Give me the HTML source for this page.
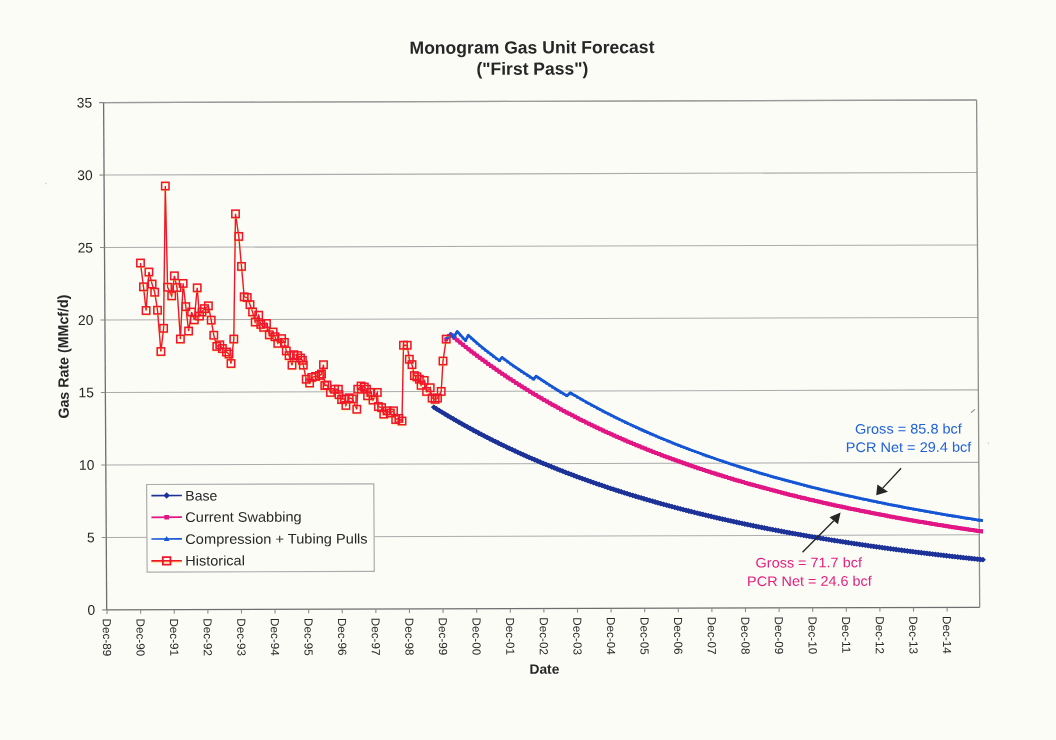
<!DOCTYPE html>
<html><head><meta charset="utf-8"><style>
html,body{margin:0;padding:0;background:#fbfcf6;}
body{width:1056px;height:740px;overflow:hidden;}
svg{display:block;font-family:"Liberation Sans", sans-serif;filter:blur(0.35px);}
</style></head><body>
<svg width="1056" height="740" viewBox="0 0 1056 740">
<rect width="1056" height="740" fill="#fbfcf6"/>
<g transform="matrix(1 -0.00298 0.00611 1 -0.627 0.309)">
<line x1="103.60" y1="537.43" x2="976.60" y2="537.43" stroke="#acacac" stroke-width="1.05"/>
<line x1="103.60" y1="464.96" x2="976.60" y2="464.96" stroke="#acacac" stroke-width="1.05"/>
<line x1="103.60" y1="392.49" x2="976.60" y2="392.49" stroke="#acacac" stroke-width="1.05"/>
<line x1="103.60" y1="320.01" x2="976.60" y2="320.01" stroke="#acacac" stroke-width="1.05"/>
<line x1="103.60" y1="247.54" x2="976.60" y2="247.54" stroke="#acacac" stroke-width="1.05"/>
<line x1="103.60" y1="175.07" x2="976.60" y2="175.07" stroke="#acacac" stroke-width="1.05"/>
<line x1="103.60" y1="102.60" x2="976.60" y2="102.60" stroke="#acacac" stroke-width="1.05"/>
<line x1="976.60" y1="102.60" x2="976.60" y2="609.90" stroke="#8e8e8e" stroke-width="1.3"/>
<line x1="103.60" y1="102.60" x2="976.60" y2="102.60" stroke="#9a9a9a" stroke-width="1.4"/>
<line x1="103.60" y1="102.60" x2="103.60" y2="609.90" stroke="#6e6e6e" stroke-width="1.3"/>
<line x1="103.60" y1="609.90" x2="976.60" y2="609.90" stroke="#6e6e6e" stroke-width="1.3"/>
<line x1="99.10" y1="609.90" x2="103.60" y2="609.90" stroke="#8c8c8c" stroke-width="1.1"/>
<text x="92.10" y="614.70" text-anchor="end" font-size="13.8" fill="#262626">0</text>
<line x1="99.10" y1="537.43" x2="103.60" y2="537.43" stroke="#8c8c8c" stroke-width="1.1"/>
<text x="92.10" y="542.23" text-anchor="end" font-size="13.8" fill="#262626">5</text>
<line x1="99.10" y1="464.96" x2="103.60" y2="464.96" stroke="#8c8c8c" stroke-width="1.1"/>
<text x="92.10" y="469.76" text-anchor="end" font-size="13.8" fill="#262626">10</text>
<line x1="99.10" y1="392.49" x2="103.60" y2="392.49" stroke="#8c8c8c" stroke-width="1.1"/>
<text x="92.10" y="397.29" text-anchor="end" font-size="13.8" fill="#262626">15</text>
<line x1="99.10" y1="320.01" x2="103.60" y2="320.01" stroke="#8c8c8c" stroke-width="1.1"/>
<text x="92.10" y="324.81" text-anchor="end" font-size="13.8" fill="#262626">20</text>
<line x1="99.10" y1="247.54" x2="103.60" y2="247.54" stroke="#8c8c8c" stroke-width="1.1"/>
<text x="92.10" y="252.34" text-anchor="end" font-size="13.8" fill="#262626">25</text>
<line x1="99.10" y1="175.07" x2="103.60" y2="175.07" stroke="#8c8c8c" stroke-width="1.1"/>
<text x="92.10" y="179.87" text-anchor="end" font-size="13.8" fill="#262626">30</text>
<line x1="99.10" y1="102.60" x2="103.60" y2="102.60" stroke="#8c8c8c" stroke-width="1.1"/>
<text x="92.10" y="107.40" text-anchor="end" font-size="13.8" fill="#262626">35</text>
<line x1="103.95" y1="609.90" x2="103.95" y2="613.90" stroke="#8c8c8c" stroke-width="1.1"/>
<text transform="translate(99.65 618.60) rotate(90)" font-size="11.7" fill="#262626">Dec-89</text>
<line x1="137.55" y1="609.90" x2="137.55" y2="613.90" stroke="#8c8c8c" stroke-width="1.1"/>
<text transform="translate(133.25 618.60) rotate(90)" font-size="11.7" fill="#262626">Dec-90</text>
<line x1="171.15" y1="609.90" x2="171.15" y2="613.90" stroke="#8c8c8c" stroke-width="1.1"/>
<text transform="translate(166.85 618.60) rotate(90)" font-size="11.7" fill="#262626">Dec-91</text>
<line x1="204.76" y1="609.90" x2="204.76" y2="613.90" stroke="#8c8c8c" stroke-width="1.1"/>
<text transform="translate(200.46 618.60) rotate(90)" font-size="11.7" fill="#262626">Dec-92</text>
<line x1="238.36" y1="609.90" x2="238.36" y2="613.90" stroke="#8c8c8c" stroke-width="1.1"/>
<text transform="translate(234.06 618.60) rotate(90)" font-size="11.7" fill="#262626">Dec-93</text>
<line x1="271.96" y1="609.90" x2="271.96" y2="613.90" stroke="#8c8c8c" stroke-width="1.1"/>
<text transform="translate(267.66 618.60) rotate(90)" font-size="11.7" fill="#262626">Dec-94</text>
<line x1="305.56" y1="609.90" x2="305.56" y2="613.90" stroke="#8c8c8c" stroke-width="1.1"/>
<text transform="translate(301.26 618.60) rotate(90)" font-size="11.7" fill="#262626">Dec-95</text>
<line x1="339.16" y1="609.90" x2="339.16" y2="613.90" stroke="#8c8c8c" stroke-width="1.1"/>
<text transform="translate(334.86 618.60) rotate(90)" font-size="11.7" fill="#262626">Dec-96</text>
<line x1="372.77" y1="609.90" x2="372.77" y2="613.90" stroke="#8c8c8c" stroke-width="1.1"/>
<text transform="translate(368.47 618.60) rotate(90)" font-size="11.7" fill="#262626">Dec-97</text>
<line x1="406.37" y1="609.90" x2="406.37" y2="613.90" stroke="#8c8c8c" stroke-width="1.1"/>
<text transform="translate(402.07 618.60) rotate(90)" font-size="11.7" fill="#262626">Dec-98</text>
<line x1="439.97" y1="609.90" x2="439.97" y2="613.90" stroke="#8c8c8c" stroke-width="1.1"/>
<text transform="translate(435.67 618.60) rotate(90)" font-size="11.7" fill="#262626">Dec-99</text>
<line x1="473.57" y1="609.90" x2="473.57" y2="613.90" stroke="#8c8c8c" stroke-width="1.1"/>
<text transform="translate(469.27 618.60) rotate(90)" font-size="11.7" fill="#262626">Dec-00</text>
<line x1="507.17" y1="609.90" x2="507.17" y2="613.90" stroke="#8c8c8c" stroke-width="1.1"/>
<text transform="translate(502.87 618.60) rotate(90)" font-size="11.7" fill="#262626">Dec-01</text>
<line x1="540.78" y1="609.90" x2="540.78" y2="613.90" stroke="#8c8c8c" stroke-width="1.1"/>
<text transform="translate(536.48 618.60) rotate(90)" font-size="11.7" fill="#262626">Dec-02</text>
<line x1="574.38" y1="609.90" x2="574.38" y2="613.90" stroke="#8c8c8c" stroke-width="1.1"/>
<text transform="translate(570.08 618.60) rotate(90)" font-size="11.7" fill="#262626">Dec-03</text>
<line x1="607.98" y1="609.90" x2="607.98" y2="613.90" stroke="#8c8c8c" stroke-width="1.1"/>
<text transform="translate(603.68 618.60) rotate(90)" font-size="11.7" fill="#262626">Dec-04</text>
<line x1="641.58" y1="609.90" x2="641.58" y2="613.90" stroke="#8c8c8c" stroke-width="1.1"/>
<text transform="translate(637.28 618.60) rotate(90)" font-size="11.7" fill="#262626">Dec-05</text>
<line x1="675.18" y1="609.90" x2="675.18" y2="613.90" stroke="#8c8c8c" stroke-width="1.1"/>
<text transform="translate(670.88 618.60) rotate(90)" font-size="11.7" fill="#262626">Dec-06</text>
<line x1="708.79" y1="609.90" x2="708.79" y2="613.90" stroke="#8c8c8c" stroke-width="1.1"/>
<text transform="translate(704.49 618.60) rotate(90)" font-size="11.7" fill="#262626">Dec-07</text>
<line x1="742.39" y1="609.90" x2="742.39" y2="613.90" stroke="#8c8c8c" stroke-width="1.1"/>
<text transform="translate(738.09 618.60) rotate(90)" font-size="11.7" fill="#262626">Dec-08</text>
<line x1="775.99" y1="609.90" x2="775.99" y2="613.90" stroke="#8c8c8c" stroke-width="1.1"/>
<text transform="translate(771.69 618.60) rotate(90)" font-size="11.7" fill="#262626">Dec-09</text>
<line x1="809.59" y1="609.90" x2="809.59" y2="613.90" stroke="#8c8c8c" stroke-width="1.1"/>
<text transform="translate(805.29 618.60) rotate(90)" font-size="11.7" fill="#262626">Dec-10</text>
<line x1="843.19" y1="609.90" x2="843.19" y2="613.90" stroke="#8c8c8c" stroke-width="1.1"/>
<text transform="translate(838.89 618.60) rotate(90)" font-size="11.7" fill="#262626">Dec-11</text>
<line x1="876.80" y1="609.90" x2="876.80" y2="613.90" stroke="#8c8c8c" stroke-width="1.1"/>
<text transform="translate(872.50 618.60) rotate(90)" font-size="11.7" fill="#262626">Dec-12</text>
<line x1="910.40" y1="609.90" x2="910.40" y2="613.90" stroke="#8c8c8c" stroke-width="1.1"/>
<text transform="translate(906.10 618.60) rotate(90)" font-size="11.7" fill="#262626">Dec-13</text>
<line x1="944.00" y1="609.90" x2="944.00" y2="613.90" stroke="#8c8c8c" stroke-width="1.1"/>
<text transform="translate(939.70 618.60) rotate(90)" font-size="11.7" fill="#262626">Dec-14</text>
<text transform="translate(66.85 356.49) rotate(-90)" text-anchor="middle" font-size="14.6" font-weight="bold" fill="#262626" textLength="124" lengthAdjust="spacingAndGlyphs">Gas Rate (MMcf/d)</text>
<text x="540.91" y="675.10" text-anchor="middle" font-size="13.6" font-weight="bold" fill="#262626" textLength="30" lengthAdjust="spacingAndGlyphs">Date</text>
<text x="532.30" y="54.68" text-anchor="middle" font-size="17.6" font-weight="bold" fill="#262626" textLength="245" lengthAdjust="spacingAndGlyphs">Monogram Gas Unit Forecast</text>
<text x="532.57" y="75.98" text-anchor="middle" font-size="17.6" font-weight="bold" fill="#262626" textLength="112" lengthAdjust="spacingAndGlyphs">("First Pass")</text>
</g>
<polyline points="433.80,407.19 436.60,408.94 439.40,410.67 442.21,412.37 445.01,414.06 447.81,415.73 450.61,417.39 453.41,419.02 456.22,420.64 459.02,422.25 461.82,423.83 464.62,425.40 467.42,426.95 470.23,428.49 473.03,430.01 475.83,431.51 478.63,433.00 481.43,434.47 484.24,435.93 487.04,437.37 489.84,438.80 492.64,440.21 495.44,441.61 498.25,442.99 501.05,444.36 503.85,445.71 506.65,447.06 509.46,448.38 512.26,449.70 515.06,451.00 517.86,452.29 520.66,453.56 523.47,454.82 526.27,456.07 529.07,457.31 531.87,458.53 534.67,459.74 537.48,460.94 540.28,462.13 543.08,463.30 545.88,464.47 548.68,465.62 551.49,466.76 554.29,467.89 557.09,469.01 559.89,470.11 562.69,471.21 565.50,472.29 568.30,473.37 571.10,474.43 573.90,475.48 576.70,476.53 579.51,477.56 582.31,478.58 585.11,479.60 587.91,480.60 590.71,481.59 593.52,482.58 596.32,483.55 599.12,484.52 601.92,485.47 604.72,486.42 607.53,487.35 610.33,488.28 613.13,489.20 615.93,490.11 618.73,491.01 621.54,491.91 624.34,492.79 627.14,493.67 629.94,494.54 632.74,495.40 635.55,496.25 638.35,497.09 641.15,497.93 643.95,498.76 646.76,499.58 649.56,500.39 652.36,501.19 655.16,501.99 657.96,502.78 660.77,503.56 663.57,504.34 666.37,505.11 669.17,505.87 671.97,506.62 674.78,507.37 677.58,508.11 680.38,508.84 683.18,509.57 685.98,510.29 688.79,511.00 691.59,511.71 694.39,512.41 697.19,513.10 699.99,513.79 702.80,514.47 705.60,515.14 708.40,515.81 711.20,516.47 714.00,517.13 716.81,517.78 719.61,518.43 722.41,519.07 725.21,519.70 728.01,520.33 730.82,520.95 733.62,521.57 736.42,522.18 739.22,522.78 742.02,523.38 744.83,523.98 747.63,524.57 750.43,525.15 753.23,525.73 756.03,526.31 758.84,526.88 761.64,527.44 764.44,528.00 767.24,528.55 770.04,529.10 772.85,529.65 775.65,530.19 778.45,530.72 781.25,531.25 784.06,531.78 786.86,532.30 789.66,532.82 792.46,533.33 795.26,533.84 798.07,534.34 800.87,534.84 803.67,535.33 806.47,535.83 809.27,536.31 812.08,536.79 814.88,537.27 817.68,537.75 820.48,538.22 823.28,538.68 826.09,539.14 828.89,539.60 831.69,540.06 834.49,540.51 837.29,540.95 840.10,541.39 842.90,541.83 845.70,542.27 848.50,542.70 851.30,543.13 854.11,543.55 856.91,543.97 859.71,544.39 862.51,544.80 865.31,545.21 868.12,545.62 870.92,546.03 873.72,546.43 876.52,546.82 879.32,547.22 882.13,547.61 884.93,547.99 887.73,548.38 890.53,548.76 893.33,549.13 896.14,549.51 898.94,549.88 901.74,550.25 904.54,550.61 907.34,550.98 910.15,551.34 912.95,551.69 915.75,552.05 918.55,552.40 921.36,552.74 924.16,553.09 926.96,553.43 929.76,553.77 932.56,554.11 935.37,554.44 938.17,554.77 940.97,555.10 943.77,555.43 946.57,555.75 949.38,556.07 952.18,556.39 954.98,556.70 957.78,557.02 960.58,557.33 963.39,557.64 966.19,557.94 968.99,558.24 971.79,558.54 974.59,558.84 977.40,559.14 980.20,559.43 983.00,559.72" fill="none" stroke="#1d3298" stroke-width="4.0" stroke-linejoin="round"/>
<path d="M433.80 404.29l2.90 2.90l-2.90 2.90l-2.90 -2.90zM436.60 406.04l2.90 2.90l-2.90 2.90l-2.90 -2.90zM439.40 407.77l2.90 2.90l-2.90 2.90l-2.90 -2.90zM442.21 409.47l2.90 2.90l-2.90 2.90l-2.90 -2.90zM445.01 411.16l2.90 2.90l-2.90 2.90l-2.90 -2.90zM447.81 412.83l2.90 2.90l-2.90 2.90l-2.90 -2.90zM450.61 414.49l2.90 2.90l-2.90 2.90l-2.90 -2.90zM453.41 416.12l2.90 2.90l-2.90 2.90l-2.90 -2.90zM456.22 417.74l2.90 2.90l-2.90 2.90l-2.90 -2.90zM459.02 419.35l2.90 2.90l-2.90 2.90l-2.90 -2.90zM461.82 420.93l2.90 2.90l-2.90 2.90l-2.90 -2.90zM464.62 422.50l2.90 2.90l-2.90 2.90l-2.90 -2.90zM467.42 424.05l2.90 2.90l-2.90 2.90l-2.90 -2.90zM470.23 425.59l2.90 2.90l-2.90 2.90l-2.90 -2.90zM473.03 427.11l2.90 2.90l-2.90 2.90l-2.90 -2.90zM475.83 428.61l2.90 2.90l-2.90 2.90l-2.90 -2.90zM478.63 430.10l2.90 2.90l-2.90 2.90l-2.90 -2.90zM481.43 431.57l2.90 2.90l-2.90 2.90l-2.90 -2.90zM484.24 433.03l2.90 2.90l-2.90 2.90l-2.90 -2.90zM487.04 434.47l2.90 2.90l-2.90 2.90l-2.90 -2.90zM489.84 435.90l2.90 2.90l-2.90 2.90l-2.90 -2.90zM492.64 437.31l2.90 2.90l-2.90 2.90l-2.90 -2.90zM495.44 438.71l2.90 2.90l-2.90 2.90l-2.90 -2.90zM498.25 440.09l2.90 2.90l-2.90 2.90l-2.90 -2.90zM501.05 441.46l2.90 2.90l-2.90 2.90l-2.90 -2.90zM503.85 442.81l2.90 2.90l-2.90 2.90l-2.90 -2.90zM506.65 444.16l2.90 2.90l-2.90 2.90l-2.90 -2.90zM509.46 445.48l2.90 2.90l-2.90 2.90l-2.90 -2.90zM512.26 446.80l2.90 2.90l-2.90 2.90l-2.90 -2.90zM515.06 448.10l2.90 2.90l-2.90 2.90l-2.90 -2.90zM517.86 449.39l2.90 2.90l-2.90 2.90l-2.90 -2.90zM520.66 450.66l2.90 2.90l-2.90 2.90l-2.90 -2.90zM523.47 451.92l2.90 2.90l-2.90 2.90l-2.90 -2.90zM526.27 453.17l2.90 2.90l-2.90 2.90l-2.90 -2.90zM529.07 454.41l2.90 2.90l-2.90 2.90l-2.90 -2.90zM531.87 455.63l2.90 2.90l-2.90 2.90l-2.90 -2.90zM534.67 456.84l2.90 2.90l-2.90 2.90l-2.90 -2.90zM537.48 458.04l2.90 2.90l-2.90 2.90l-2.90 -2.90zM540.28 459.23l2.90 2.90l-2.90 2.90l-2.90 -2.90zM543.08 460.40l2.90 2.90l-2.90 2.90l-2.90 -2.90zM545.88 461.57l2.90 2.90l-2.90 2.90l-2.90 -2.90zM548.68 462.72l2.90 2.90l-2.90 2.90l-2.90 -2.90zM551.49 463.86l2.90 2.90l-2.90 2.90l-2.90 -2.90zM554.29 464.99l2.90 2.90l-2.90 2.90l-2.90 -2.90zM557.09 466.11l2.90 2.90l-2.90 2.90l-2.90 -2.90zM559.89 467.21l2.90 2.90l-2.90 2.90l-2.90 -2.90zM562.69 468.31l2.90 2.90l-2.90 2.90l-2.90 -2.90zM565.50 469.39l2.90 2.90l-2.90 2.90l-2.90 -2.90zM568.30 470.47l2.90 2.90l-2.90 2.90l-2.90 -2.90zM571.10 471.53l2.90 2.90l-2.90 2.90l-2.90 -2.90zM573.90 472.58l2.90 2.90l-2.90 2.90l-2.90 -2.90zM576.70 473.63l2.90 2.90l-2.90 2.90l-2.90 -2.90zM579.51 474.66l2.90 2.90l-2.90 2.90l-2.90 -2.90zM582.31 475.68l2.90 2.90l-2.90 2.90l-2.90 -2.90zM585.11 476.70l2.90 2.90l-2.90 2.90l-2.90 -2.90zM587.91 477.70l2.90 2.90l-2.90 2.90l-2.90 -2.90zM590.71 478.69l2.90 2.90l-2.90 2.90l-2.90 -2.90zM593.52 479.68l2.90 2.90l-2.90 2.90l-2.90 -2.90zM596.32 480.65l2.90 2.90l-2.90 2.90l-2.90 -2.90zM599.12 481.62l2.90 2.90l-2.90 2.90l-2.90 -2.90zM601.92 482.57l2.90 2.90l-2.90 2.90l-2.90 -2.90zM604.72 483.52l2.90 2.90l-2.90 2.90l-2.90 -2.90zM607.53 484.45l2.90 2.90l-2.90 2.90l-2.90 -2.90zM610.33 485.38l2.90 2.90l-2.90 2.90l-2.90 -2.90zM613.13 486.30l2.90 2.90l-2.90 2.90l-2.90 -2.90zM615.93 487.21l2.90 2.90l-2.90 2.90l-2.90 -2.90zM618.73 488.11l2.90 2.90l-2.90 2.90l-2.90 -2.90zM621.54 489.01l2.90 2.90l-2.90 2.90l-2.90 -2.90zM624.34 489.89l2.90 2.90l-2.90 2.90l-2.90 -2.90zM627.14 490.77l2.90 2.90l-2.90 2.90l-2.90 -2.90zM629.94 491.64l2.90 2.90l-2.90 2.90l-2.90 -2.90zM632.74 492.50l2.90 2.90l-2.90 2.90l-2.90 -2.90zM635.55 493.35l2.90 2.90l-2.90 2.90l-2.90 -2.90zM638.35 494.19l2.90 2.90l-2.90 2.90l-2.90 -2.90zM641.15 495.03l2.90 2.90l-2.90 2.90l-2.90 -2.90zM643.95 495.86l2.90 2.90l-2.90 2.90l-2.90 -2.90zM646.76 496.68l2.90 2.90l-2.90 2.90l-2.90 -2.90zM649.56 497.49l2.90 2.90l-2.90 2.90l-2.90 -2.90zM652.36 498.29l2.90 2.90l-2.90 2.90l-2.90 -2.90zM655.16 499.09l2.90 2.90l-2.90 2.90l-2.90 -2.90zM657.96 499.88l2.90 2.90l-2.90 2.90l-2.90 -2.90zM660.77 500.66l2.90 2.90l-2.90 2.90l-2.90 -2.90zM663.57 501.44l2.90 2.90l-2.90 2.90l-2.90 -2.90zM666.37 502.21l2.90 2.90l-2.90 2.90l-2.90 -2.90zM669.17 502.97l2.90 2.90l-2.90 2.90l-2.90 -2.90zM671.97 503.72l2.90 2.90l-2.90 2.90l-2.90 -2.90zM674.78 504.47l2.90 2.90l-2.90 2.90l-2.90 -2.90zM677.58 505.21l2.90 2.90l-2.90 2.90l-2.90 -2.90zM680.38 505.94l2.90 2.90l-2.90 2.90l-2.90 -2.90zM683.18 506.67l2.90 2.90l-2.90 2.90l-2.90 -2.90zM685.98 507.39l2.90 2.90l-2.90 2.90l-2.90 -2.90zM688.79 508.10l2.90 2.90l-2.90 2.90l-2.90 -2.90zM691.59 508.81l2.90 2.90l-2.90 2.90l-2.90 -2.90zM694.39 509.51l2.90 2.90l-2.90 2.90l-2.90 -2.90zM697.19 510.20l2.90 2.90l-2.90 2.90l-2.90 -2.90zM699.99 510.89l2.90 2.90l-2.90 2.90l-2.90 -2.90zM702.80 511.57l2.90 2.90l-2.90 2.90l-2.90 -2.90zM705.60 512.24l2.90 2.90l-2.90 2.90l-2.90 -2.90zM708.40 512.91l2.90 2.90l-2.90 2.90l-2.90 -2.90zM711.20 513.57l2.90 2.90l-2.90 2.90l-2.90 -2.90zM714.00 514.23l2.90 2.90l-2.90 2.90l-2.90 -2.90zM716.81 514.88l2.90 2.90l-2.90 2.90l-2.90 -2.90zM719.61 515.53l2.90 2.90l-2.90 2.90l-2.90 -2.90zM722.41 516.17l2.90 2.90l-2.90 2.90l-2.90 -2.90zM725.21 516.80l2.90 2.90l-2.90 2.90l-2.90 -2.90zM728.01 517.43l2.90 2.90l-2.90 2.90l-2.90 -2.90zM730.82 518.05l2.90 2.90l-2.90 2.90l-2.90 -2.90zM733.62 518.67l2.90 2.90l-2.90 2.90l-2.90 -2.90zM736.42 519.28l2.90 2.90l-2.90 2.90l-2.90 -2.90zM739.22 519.88l2.90 2.90l-2.90 2.90l-2.90 -2.90zM742.02 520.48l2.90 2.90l-2.90 2.90l-2.90 -2.90zM744.83 521.08l2.90 2.90l-2.90 2.90l-2.90 -2.90zM747.63 521.67l2.90 2.90l-2.90 2.90l-2.90 -2.90zM750.43 522.25l2.90 2.90l-2.90 2.90l-2.90 -2.90zM753.23 522.83l2.90 2.90l-2.90 2.90l-2.90 -2.90zM756.03 523.41l2.90 2.90l-2.90 2.90l-2.90 -2.90zM758.84 523.98l2.90 2.90l-2.90 2.90l-2.90 -2.90zM761.64 524.54l2.90 2.90l-2.90 2.90l-2.90 -2.90zM764.44 525.10l2.90 2.90l-2.90 2.90l-2.90 -2.90zM767.24 525.65l2.90 2.90l-2.90 2.90l-2.90 -2.90zM770.04 526.20l2.90 2.90l-2.90 2.90l-2.90 -2.90zM772.85 526.75l2.90 2.90l-2.90 2.90l-2.90 -2.90zM775.65 527.29l2.90 2.90l-2.90 2.90l-2.90 -2.90zM778.45 527.82l2.90 2.90l-2.90 2.90l-2.90 -2.90zM781.25 528.35l2.90 2.90l-2.90 2.90l-2.90 -2.90zM784.06 528.88l2.90 2.90l-2.90 2.90l-2.90 -2.90zM786.86 529.40l2.90 2.90l-2.90 2.90l-2.90 -2.90zM789.66 529.92l2.90 2.90l-2.90 2.90l-2.90 -2.90zM792.46 530.43l2.90 2.90l-2.90 2.90l-2.90 -2.90zM795.26 530.94l2.90 2.90l-2.90 2.90l-2.90 -2.90zM798.07 531.44l2.90 2.90l-2.90 2.90l-2.90 -2.90zM800.87 531.94l2.90 2.90l-2.90 2.90l-2.90 -2.90zM803.67 532.43l2.90 2.90l-2.90 2.90l-2.90 -2.90zM806.47 532.93l2.90 2.90l-2.90 2.90l-2.90 -2.90zM809.27 533.41l2.90 2.90l-2.90 2.90l-2.90 -2.90zM812.08 533.89l2.90 2.90l-2.90 2.90l-2.90 -2.90zM814.88 534.37l2.90 2.90l-2.90 2.90l-2.90 -2.90zM817.68 534.85l2.90 2.90l-2.90 2.90l-2.90 -2.90zM820.48 535.32l2.90 2.90l-2.90 2.90l-2.90 -2.90zM823.28 535.78l2.90 2.90l-2.90 2.90l-2.90 -2.90zM826.09 536.24l2.90 2.90l-2.90 2.90l-2.90 -2.90zM828.89 536.70l2.90 2.90l-2.90 2.90l-2.90 -2.90zM831.69 537.16l2.90 2.90l-2.90 2.90l-2.90 -2.90zM834.49 537.61l2.90 2.90l-2.90 2.90l-2.90 -2.90zM837.29 538.05l2.90 2.90l-2.90 2.90l-2.90 -2.90zM840.10 538.49l2.90 2.90l-2.90 2.90l-2.90 -2.90zM842.90 538.93l2.90 2.90l-2.90 2.90l-2.90 -2.90zM845.70 539.37l2.90 2.90l-2.90 2.90l-2.90 -2.90zM848.50 539.80l2.90 2.90l-2.90 2.90l-2.90 -2.90zM851.30 540.23l2.90 2.90l-2.90 2.90l-2.90 -2.90zM854.11 540.65l2.90 2.90l-2.90 2.90l-2.90 -2.90zM856.91 541.07l2.90 2.90l-2.90 2.90l-2.90 -2.90zM859.71 541.49l2.90 2.90l-2.90 2.90l-2.90 -2.90zM862.51 541.90l2.90 2.90l-2.90 2.90l-2.90 -2.90zM865.31 542.31l2.90 2.90l-2.90 2.90l-2.90 -2.90zM868.12 542.72l2.90 2.90l-2.90 2.90l-2.90 -2.90zM870.92 543.13l2.90 2.90l-2.90 2.90l-2.90 -2.90zM873.72 543.53l2.90 2.90l-2.90 2.90l-2.90 -2.90zM876.52 543.92l2.90 2.90l-2.90 2.90l-2.90 -2.90zM879.32 544.32l2.90 2.90l-2.90 2.90l-2.90 -2.90zM882.13 544.71l2.90 2.90l-2.90 2.90l-2.90 -2.90zM884.93 545.09l2.90 2.90l-2.90 2.90l-2.90 -2.90zM887.73 545.48l2.90 2.90l-2.90 2.90l-2.90 -2.90zM890.53 545.86l2.90 2.90l-2.90 2.90l-2.90 -2.90zM893.33 546.23l2.90 2.90l-2.90 2.90l-2.90 -2.90zM896.14 546.61l2.90 2.90l-2.90 2.90l-2.90 -2.90zM898.94 546.98l2.90 2.90l-2.90 2.90l-2.90 -2.90zM901.74 547.35l2.90 2.90l-2.90 2.90l-2.90 -2.90zM904.54 547.71l2.90 2.90l-2.90 2.90l-2.90 -2.90zM907.34 548.08l2.90 2.90l-2.90 2.90l-2.90 -2.90zM910.15 548.44l2.90 2.90l-2.90 2.90l-2.90 -2.90zM912.95 548.79l2.90 2.90l-2.90 2.90l-2.90 -2.90zM915.75 549.15l2.90 2.90l-2.90 2.90l-2.90 -2.90zM918.55 549.50l2.90 2.90l-2.90 2.90l-2.90 -2.90zM921.36 549.84l2.90 2.90l-2.90 2.90l-2.90 -2.90zM924.16 550.19l2.90 2.90l-2.90 2.90l-2.90 -2.90zM926.96 550.53l2.90 2.90l-2.90 2.90l-2.90 -2.90zM929.76 550.87l2.90 2.90l-2.90 2.90l-2.90 -2.90zM932.56 551.21l2.90 2.90l-2.90 2.90l-2.90 -2.90zM935.37 551.54l2.90 2.90l-2.90 2.90l-2.90 -2.90zM938.17 551.87l2.90 2.90l-2.90 2.90l-2.90 -2.90zM940.97 552.20l2.90 2.90l-2.90 2.90l-2.90 -2.90zM943.77 552.53l2.90 2.90l-2.90 2.90l-2.90 -2.90zM946.57 552.85l2.90 2.90l-2.90 2.90l-2.90 -2.90zM949.38 553.17l2.90 2.90l-2.90 2.90l-2.90 -2.90zM952.18 553.49l2.90 2.90l-2.90 2.90l-2.90 -2.90zM954.98 553.80l2.90 2.90l-2.90 2.90l-2.90 -2.90zM957.78 554.12l2.90 2.90l-2.90 2.90l-2.90 -2.90zM960.58 554.43l2.90 2.90l-2.90 2.90l-2.90 -2.90zM963.39 554.74l2.90 2.90l-2.90 2.90l-2.90 -2.90zM966.19 555.04l2.90 2.90l-2.90 2.90l-2.90 -2.90zM968.99 555.34l2.90 2.90l-2.90 2.90l-2.90 -2.90zM971.79 555.64l2.90 2.90l-2.90 2.90l-2.90 -2.90zM974.59 555.94l2.90 2.90l-2.90 2.90l-2.90 -2.90zM977.40 556.24l2.90 2.90l-2.90 2.90l-2.90 -2.90zM980.20 556.53l2.90 2.90l-2.90 2.90l-2.90 -2.90zM983.00 556.82l2.90 2.90l-2.90 2.90l-2.90 -2.90z" fill="#1d3298"/>
<polyline points="446.20,339.60 450.60,334.00 453.40,337.07 456.20,339.37 459.00,341.65 461.81,343.90 464.61,346.13 467.41,348.33 470.21,350.51 473.01,352.66 475.82,354.78 478.62,356.89 481.42,358.97 484.22,361.02 487.03,363.05 489.83,365.06 492.63,367.05 495.43,369.02 498.23,370.96 501.04,372.88 503.84,374.78 506.64,376.66 509.44,378.52 512.24,380.36 515.05,382.18 517.85,383.98 520.65,385.76 523.45,387.52 526.26,389.26 529.06,390.99 531.86,392.69 534.66,394.38 537.46,396.05 540.27,397.70 543.07,399.33 545.87,400.95 548.67,402.54 551.47,404.13 554.28,405.69 557.08,407.24 559.88,408.77 562.68,410.29 565.48,411.79 568.29,413.28 571.09,414.75 573.89,416.20 576.69,417.65 579.50,419.07 582.30,420.48 585.10,421.88 587.90,423.26 590.70,424.63 593.51,425.98 596.31,427.33 599.11,428.65 601.91,429.97 604.71,431.27 607.52,432.56 610.32,433.83 613.12,435.10 615.92,436.35 618.72,437.58 621.53,438.81 624.33,440.02 627.13,441.22 629.93,442.41 632.74,443.59 635.54,444.76 638.34,445.92 641.14,447.06 643.94,448.19 646.75,449.32 649.55,450.43 652.35,451.53 655.15,452.62 657.95,453.70 660.76,454.77 663.56,455.83 666.36,456.88 669.16,457.92 671.97,458.95 674.77,459.97 677.57,460.98 680.37,461.98 683.17,462.97 685.98,463.95 688.78,464.93 691.58,465.89 694.38,466.85 697.18,467.79 699.99,468.73 702.79,469.66 705.59,470.58 708.39,471.49 711.19,472.40 714.00,473.29 716.80,474.18 719.60,475.06 722.40,475.93 725.21,476.80 728.01,477.65 730.81,478.50 733.61,479.34 736.41,480.18 739.22,481.00 742.02,481.82 744.82,482.63 747.62,483.43 750.42,484.23 753.23,485.02 756.03,485.80 758.83,486.58 761.63,487.35 764.43,488.11 767.24,488.87 770.04,489.62 772.84,490.36 775.64,491.10 778.45,491.83 781.25,492.55 784.05,493.27 786.85,493.98 789.65,494.68 792.46,495.38 795.26,496.07 798.06,496.76 800.86,497.44 803.66,498.12 806.47,498.79 809.27,499.45 812.07,500.11 814.87,500.76 817.68,501.41 820.48,502.05 823.28,502.69 826.08,503.32 828.88,503.95 831.69,504.57 834.49,505.18 837.29,505.79 840.09,506.40 842.89,507.00 845.70,507.60 848.50,508.19 851.30,508.77 854.10,509.35 856.90,509.93 859.71,510.50 862.51,511.07 865.31,511.63 868.11,512.19 870.92,512.74 873.72,513.29 876.52,513.84 879.32,514.38 882.12,514.91 884.93,515.44 887.73,515.97 890.53,516.49 893.33,517.01 896.13,517.53 898.94,518.04 901.74,518.54 904.54,519.05 907.34,519.55 910.14,520.04 912.95,520.53 915.75,521.02 918.55,521.50 921.35,521.98 924.16,522.46 926.96,522.93 929.76,523.40 932.56,523.86 935.36,524.32 938.17,524.78 940.97,525.23 943.77,525.68 946.57,526.13 949.37,526.57 952.18,527.01 954.98,527.45 957.78,527.88 960.58,528.31 963.39,528.74 966.19,529.17 968.99,529.59 971.79,530.00 974.59,530.42 977.40,530.83 980.20,531.24 983.00,531.64" fill="none" stroke="#e11584" stroke-width="3.6" stroke-linejoin="round"/>
<path d="M444.20 337.60h4.00v4.00h-4.00zM447.00 334.04h4.00v4.00h-4.00zM449.80 333.32h4.00v4.00h-4.00zM452.60 336.06h4.00v4.00h-4.00zM455.40 338.35h4.00v4.00h-4.00zM458.20 340.61h4.00v4.00h-4.00zM461.00 342.85h4.00v4.00h-4.00zM463.80 345.07h4.00v4.00h-4.00zM466.60 347.25h4.00v4.00h-4.00zM469.40 349.42h4.00v4.00h-4.00zM472.20 351.56h4.00v4.00h-4.00zM475.00 353.67h4.00v4.00h-4.00zM477.80 355.76h4.00v4.00h-4.00zM480.60 357.83h4.00v4.00h-4.00zM483.40 359.87h4.00v4.00h-4.00zM486.20 361.90h4.00v4.00h-4.00zM489.00 363.90h4.00v4.00h-4.00zM491.80 365.87h4.00v4.00h-4.00zM494.60 367.83h4.00v4.00h-4.00zM497.40 369.76h4.00v4.00h-4.00zM500.20 371.67h4.00v4.00h-4.00zM503.00 373.56h4.00v4.00h-4.00zM505.80 375.43h4.00v4.00h-4.00zM508.60 377.28h4.00v4.00h-4.00zM511.40 379.11h4.00v4.00h-4.00zM514.20 380.92h4.00v4.00h-4.00zM517.00 382.71h4.00v4.00h-4.00zM519.80 384.48h4.00v4.00h-4.00zM522.60 386.23h4.00v4.00h-4.00zM525.40 387.97h4.00v4.00h-4.00zM528.20 389.68h4.00v4.00h-4.00zM531.00 391.38h4.00v4.00h-4.00zM533.80 393.06h4.00v4.00h-4.00zM536.60 394.72h4.00v4.00h-4.00zM539.40 396.36h4.00v4.00h-4.00zM542.20 397.98h4.00v4.00h-4.00zM545.00 399.59h4.00v4.00h-4.00zM547.80 401.18h4.00v4.00h-4.00zM550.60 402.76h4.00v4.00h-4.00zM553.40 404.31h4.00v4.00h-4.00zM556.20 405.86h4.00v4.00h-4.00zM559.00 407.38h4.00v4.00h-4.00zM561.80 408.89h4.00v4.00h-4.00zM564.60 410.38h4.00v4.00h-4.00zM567.40 411.86h4.00v4.00h-4.00zM570.20 413.33h4.00v4.00h-4.00zM573.00 414.77h4.00v4.00h-4.00zM575.80 416.21h4.00v4.00h-4.00zM578.60 417.63h4.00v4.00h-4.00zM581.40 419.03h4.00v4.00h-4.00zM584.20 420.42h4.00v4.00h-4.00zM587.00 421.80h4.00v4.00h-4.00zM589.80 423.16h4.00v4.00h-4.00zM592.60 424.51h4.00v4.00h-4.00zM595.40 425.84h4.00v4.00h-4.00zM598.20 427.16h4.00v4.00h-4.00zM601.00 428.47h4.00v4.00h-4.00zM603.80 429.77h4.00v4.00h-4.00zM606.60 431.05h4.00v4.00h-4.00zM609.40 432.32h4.00v4.00h-4.00zM612.20 433.58h4.00v4.00h-4.00zM615.00 434.82h4.00v4.00h-4.00zM617.80 436.05h4.00v4.00h-4.00zM620.60 437.27h4.00v4.00h-4.00zM623.40 438.48h4.00v4.00h-4.00zM626.20 439.68h4.00v4.00h-4.00zM629.00 440.86h4.00v4.00h-4.00zM631.80 442.04h4.00v4.00h-4.00zM634.60 443.20h4.00v4.00h-4.00zM637.40 444.35h4.00v4.00h-4.00zM640.20 445.49h4.00v4.00h-4.00zM643.00 446.62h4.00v4.00h-4.00zM645.80 447.73h4.00v4.00h-4.00zM648.60 448.84h4.00v4.00h-4.00zM651.40 449.94h4.00v4.00h-4.00zM654.20 451.02h4.00v4.00h-4.00zM657.00 452.10h4.00v4.00h-4.00zM659.80 453.16h4.00v4.00h-4.00zM662.60 454.22h4.00v4.00h-4.00zM665.40 455.26h4.00v4.00h-4.00zM668.20 456.30h4.00v4.00h-4.00zM671.00 457.32h4.00v4.00h-4.00zM673.80 458.34h4.00v4.00h-4.00zM676.60 459.35h4.00v4.00h-4.00zM679.40 460.34h4.00v4.00h-4.00zM682.20 461.33h4.00v4.00h-4.00zM685.00 462.31h4.00v4.00h-4.00zM687.80 463.28h4.00v4.00h-4.00zM690.60 464.24h4.00v4.00h-4.00zM693.40 465.19h4.00v4.00h-4.00zM696.20 466.13h4.00v4.00h-4.00zM699.00 467.07h4.00v4.00h-4.00zM701.80 467.99h4.00v4.00h-4.00zM704.60 468.91h4.00v4.00h-4.00zM707.40 469.82h4.00v4.00h-4.00zM710.20 470.72h4.00v4.00h-4.00zM713.00 471.61h4.00v4.00h-4.00zM715.80 472.50h4.00v4.00h-4.00zM718.60 473.37h4.00v4.00h-4.00zM721.40 474.24h4.00v4.00h-4.00zM724.20 475.10h4.00v4.00h-4.00zM727.00 475.95h4.00v4.00h-4.00zM729.80 476.80h4.00v4.00h-4.00zM732.60 477.64h4.00v4.00h-4.00zM735.40 478.47h4.00v4.00h-4.00zM738.20 479.29h4.00v4.00h-4.00zM741.00 480.10h4.00v4.00h-4.00zM743.80 480.91h4.00v4.00h-4.00zM746.60 481.71h4.00v4.00h-4.00zM749.40 482.51h4.00v4.00h-4.00zM752.20 483.29h4.00v4.00h-4.00zM755.00 484.07h4.00v4.00h-4.00zM757.80 484.85h4.00v4.00h-4.00zM760.60 485.61h4.00v4.00h-4.00zM763.40 486.37h4.00v4.00h-4.00zM766.20 487.12h4.00v4.00h-4.00zM769.00 487.87h4.00v4.00h-4.00zM771.80 488.61h4.00v4.00h-4.00zM774.60 489.34h4.00v4.00h-4.00zM777.40 490.07h4.00v4.00h-4.00zM780.20 490.79h4.00v4.00h-4.00zM783.00 491.51h4.00v4.00h-4.00zM785.80 492.22h4.00v4.00h-4.00zM788.60 492.92h4.00v4.00h-4.00zM791.40 493.61h4.00v4.00h-4.00zM794.20 494.31h4.00v4.00h-4.00zM797.00 494.99h4.00v4.00h-4.00zM799.80 495.67h4.00v4.00h-4.00zM802.60 496.34h4.00v4.00h-4.00zM805.40 497.01h4.00v4.00h-4.00zM808.20 497.67h4.00v4.00h-4.00zM811.00 498.33h4.00v4.00h-4.00zM813.80 498.98h4.00v4.00h-4.00zM816.60 499.62h4.00v4.00h-4.00zM819.40 500.26h4.00v4.00h-4.00zM822.20 500.90h4.00v4.00h-4.00zM825.00 501.53h4.00v4.00h-4.00zM827.80 502.15h4.00v4.00h-4.00zM830.60 502.77h4.00v4.00h-4.00zM833.40 503.38h4.00v4.00h-4.00zM836.20 503.99h4.00v4.00h-4.00zM839.00 504.59h4.00v4.00h-4.00zM841.80 505.19h4.00v4.00h-4.00zM844.60 505.79h4.00v4.00h-4.00zM847.40 506.38h4.00v4.00h-4.00zM850.20 506.96h4.00v4.00h-4.00zM853.00 507.54h4.00v4.00h-4.00zM855.80 508.11h4.00v4.00h-4.00zM858.60 508.68h4.00v4.00h-4.00zM861.40 509.25h4.00v4.00h-4.00zM864.20 509.81h4.00v4.00h-4.00zM867.00 510.36h4.00v4.00h-4.00zM869.80 510.92h4.00v4.00h-4.00zM872.60 511.46h4.00v4.00h-4.00zM875.40 512.01h4.00v4.00h-4.00zM878.20 512.54h4.00v4.00h-4.00zM881.00 513.08h4.00v4.00h-4.00zM883.80 513.61h4.00v4.00h-4.00zM886.60 514.13h4.00v4.00h-4.00zM889.40 514.65h4.00v4.00h-4.00zM892.20 515.17h4.00v4.00h-4.00zM895.00 515.68h4.00v4.00h-4.00zM897.80 516.19h4.00v4.00h-4.00zM900.60 516.70h4.00v4.00h-4.00zM903.40 517.20h4.00v4.00h-4.00zM906.20 517.70h4.00v4.00h-4.00zM909.00 518.19h4.00v4.00h-4.00zM911.80 518.68h4.00v4.00h-4.00zM914.60 519.16h4.00v4.00h-4.00zM917.40 519.65h4.00v4.00h-4.00zM920.20 520.12h4.00v4.00h-4.00zM923.00 520.60h4.00v4.00h-4.00zM925.80 521.07h4.00v4.00h-4.00zM928.60 521.54h4.00v4.00h-4.00zM931.40 522.00h4.00v4.00h-4.00zM934.20 522.46h4.00v4.00h-4.00zM937.00 522.91h4.00v4.00h-4.00zM939.80 523.37h4.00v4.00h-4.00zM942.60 523.82h4.00v4.00h-4.00zM945.40 524.26h4.00v4.00h-4.00zM948.20 524.70h4.00v4.00h-4.00zM951.00 525.14h4.00v4.00h-4.00zM953.80 525.58h4.00v4.00h-4.00zM956.60 526.01h4.00v4.00h-4.00zM959.40 526.44h4.00v4.00h-4.00zM962.20 526.86h4.00v4.00h-4.00zM965.00 527.29h4.00v4.00h-4.00zM967.80 527.71h4.00v4.00h-4.00zM970.60 528.12h4.00v4.00h-4.00zM973.40 528.54h4.00v4.00h-4.00zM976.20 528.94h4.00v4.00h-4.00zM979.00 529.35h4.00v4.00h-4.00z" fill="#e11584"/>
<polyline points="446.20,339.10 450.80,333.80 453.60,337.80 457.20,331.40 465.50,340.60 468.30,335.20 471.13,337.83 473.95,340.38 476.78,342.86 479.61,345.27 482.44,347.60 485.26,349.84 488.09,352.03 490.92,354.21 493.75,356.37 496.57,358.50 499.40,360.60 502.00,357.40 504.89,359.55 507.78,361.67 510.67,363.76 513.56,365.80 516.45,367.80 519.35,369.78 522.24,371.73 525.13,373.64 528.02,375.53 530.91,377.38 533.80,379.20 536.10,376.10 538.92,378.01 541.74,379.91 544.55,381.77 547.37,383.61 550.19,385.42 553.01,387.21 555.83,388.97 558.65,390.72 561.46,392.44 564.28,394.13 567.10,395.80 570.20,392.74 573.01,394.40 575.82,396.04 578.62,397.66 581.43,399.27 584.24,400.85 587.05,402.42 589.86,403.97 592.67,405.50 595.47,407.02 598.28,408.52 601.09,410.00 603.90,411.47 606.71,412.92 609.51,414.35 612.32,415.77 615.13,417.17 617.94,418.56 620.75,419.93 623.56,421.29 626.36,422.63 629.17,423.96 631.98,425.28 634.79,426.58 637.60,427.87 640.40,429.14 643.21,430.40 646.02,431.65 648.83,432.88 651.64,434.10 654.44,435.31 657.25,436.51 660.06,437.69 662.87,438.86 665.68,440.02 668.49,441.17 671.29,442.30 674.10,443.43 676.91,444.54 679.72,445.64 682.53,446.73 685.33,447.81 688.14,448.88 690.95,449.94 693.76,450.99 696.57,452.02 699.38,453.05 702.18,454.07 704.99,455.07 707.80,456.07 710.61,457.06 713.42,458.04 716.22,459.00 719.03,459.96 721.84,460.91 724.65,461.85 727.46,462.79 730.27,463.71 733.07,464.62 735.88,465.53 738.69,466.42 741.50,467.31 744.31,468.19 747.11,469.06 749.92,469.93 752.73,470.78 755.54,471.63 758.35,472.47 761.16,473.30 763.96,474.13 766.77,474.94 769.58,475.75 772.39,476.55 775.20,477.35 778.00,478.14 780.81,478.92 783.62,479.69 786.43,480.45 789.24,481.21 792.04,481.97 794.85,482.71 797.66,483.45 800.47,484.18 803.28,484.91 806.09,485.63 808.89,486.34 811.70,487.05 814.51,487.75 817.32,488.44 820.13,489.13 822.93,489.81 825.74,490.49 828.55,491.16 831.36,491.83 834.17,492.49 836.98,493.14 839.78,493.79 842.59,494.43 845.40,495.07 848.21,495.70 851.02,496.32 853.82,496.95 856.63,497.56 859.44,498.17 862.25,498.78 865.06,499.38 867.87,499.97 870.67,500.56 873.48,501.15 876.29,501.73 879.10,502.30 881.91,502.88 884.71,503.44 887.52,504.00 890.33,504.56 893.14,505.11 895.95,505.66 898.76,506.20 901.56,506.74 904.37,507.28 907.18,507.81 909.99,508.34 912.80,508.86 915.60,509.38 918.41,509.89 921.22,510.40 924.03,510.90 926.84,511.41 929.64,511.90 932.45,512.40 935.26,512.89 938.07,513.37 940.88,513.85 943.69,514.33 946.49,514.81 949.30,515.28 952.11,515.75 954.92,516.21 957.73,516.67 960.53,517.13 963.34,517.58 966.15,518.03 968.96,518.48 971.77,518.92 974.58,519.36 977.38,519.79 980.19,520.23 983.00,520.66" fill="none" stroke="#1556d6" stroke-width="2.8" stroke-linejoin="round"/>
<path d="M446.20 337.29l1.60 3.30h-3.20zM449.00 334.06l1.60 3.30h-3.20zM451.80 333.41l1.60 3.30h-3.20zM454.60 334.21l1.60 3.30h-3.20zM457.40 329.81l1.60 3.30h-3.20zM460.20 332.91l1.60 3.30h-3.20zM463.00 336.01l1.60 3.30h-3.20zM465.80 338.21l1.60 3.30h-3.20zM468.60 333.66l1.60 3.30h-3.20zM471.40 336.26l1.60 3.30h-3.20zM474.20 338.78l1.60 3.30h-3.20zM477.00 341.24l1.60 3.30h-3.20zM479.80 343.61l1.60 3.30h-3.20zM482.60 345.91l1.60 3.30h-3.20zM485.40 348.13l1.60 3.30h-3.20zM488.20 350.30l1.60 3.30h-3.20zM491.00 352.45l1.60 3.30h-3.20zM493.80 354.59l1.60 3.30h-3.20zM496.60 356.70l1.60 3.30h-3.20zM499.40 358.78l1.60 3.30h-3.20zM502.20 355.73l1.60 3.30h-3.20zM505.00 357.82l1.60 3.30h-3.20zM507.80 359.87l1.60 3.30h-3.20zM510.60 361.89l1.60 3.30h-3.20zM513.40 363.87l1.60 3.30h-3.20zM516.20 365.81l1.60 3.30h-3.20zM519.00 367.73l1.60 3.30h-3.20zM521.80 369.62l1.60 3.30h-3.20zM524.60 371.48l1.60 3.30h-3.20zM527.40 373.31l1.60 3.30h-3.20zM530.20 375.11l1.60 3.30h-3.20zM533.00 376.88l1.60 3.30h-3.20zM535.80 374.69l1.60 3.30h-3.20zM538.60 375.98l1.60 3.30h-3.20zM541.40 377.87l1.60 3.30h-3.20zM544.20 379.72l1.60 3.30h-3.20zM547.00 381.55l1.60 3.30h-3.20zM549.80 383.36l1.60 3.30h-3.20zM552.60 385.13l1.60 3.30h-3.20zM555.40 386.89l1.60 3.30h-3.20zM558.20 388.63l1.60 3.30h-3.20zM561.00 390.34l1.60 3.30h-3.20zM563.80 392.03l1.60 3.30h-3.20zM566.60 393.69l1.60 3.30h-3.20zM569.40 391.72l1.60 3.30h-3.20zM572.20 392.11l1.60 3.30h-3.20zM575.00 393.75l1.60 3.30h-3.20zM577.80 395.37l1.60 3.30h-3.20zM580.60 396.98l1.60 3.30h-3.20zM583.40 398.56l1.60 3.30h-3.20zM586.20 400.13l1.60 3.30h-3.20zM589.00 401.68l1.60 3.30h-3.20zM591.80 403.22l1.60 3.30h-3.20zM594.60 404.73l1.60 3.30h-3.20zM597.40 406.23l1.60 3.30h-3.20zM600.20 407.72l1.60 3.30h-3.20zM603.00 409.18l1.60 3.30h-3.20zM605.80 410.63l1.60 3.30h-3.20zM608.60 412.07l1.60 3.30h-3.20zM611.40 413.49l1.60 3.30h-3.20zM614.20 414.89l1.60 3.30h-3.20zM617.00 416.28l1.60 3.30h-3.20zM619.80 417.65l1.60 3.30h-3.20zM622.60 419.01l1.60 3.30h-3.20zM625.40 420.36l1.60 3.30h-3.20zM628.20 421.69l1.60 3.30h-3.20zM631.00 423.00l1.60 3.30h-3.20zM633.80 424.31l1.60 3.30h-3.20zM636.60 425.59l1.60 3.30h-3.20zM639.40 426.87l1.60 3.30h-3.20zM642.20 428.13l1.60 3.30h-3.20zM645.00 429.38l1.60 3.30h-3.20zM647.80 430.61l1.60 3.30h-3.20zM650.60 431.84l1.60 3.30h-3.20zM653.40 433.04l1.60 3.30h-3.20zM656.20 434.24l1.60 3.30h-3.20zM659.00 435.43l1.60 3.30h-3.20zM661.80 436.60l1.60 3.30h-3.20zM664.60 437.76l1.60 3.30h-3.20zM667.40 438.91l1.60 3.30h-3.20zM670.20 440.04l1.60 3.30h-3.20zM673.00 441.17l1.60 3.30h-3.20zM675.80 442.28l1.60 3.30h-3.20zM678.60 443.39l1.60 3.30h-3.20zM681.40 444.48l1.60 3.30h-3.20zM684.20 445.56l1.60 3.30h-3.20zM687.00 446.63l1.60 3.30h-3.20zM689.80 447.69l1.60 3.30h-3.20zM692.60 448.74l1.60 3.30h-3.20zM695.40 449.78l1.60 3.30h-3.20zM698.20 450.81l1.60 3.30h-3.20zM701.00 451.82l1.60 3.30h-3.20zM703.80 452.83l1.60 3.30h-3.20zM706.60 453.83l1.60 3.30h-3.20zM709.40 454.82l1.60 3.30h-3.20zM712.20 455.80l1.60 3.30h-3.20zM715.00 456.77l1.60 3.30h-3.20zM717.80 457.73l1.60 3.30h-3.20zM720.60 458.68l1.60 3.30h-3.20zM723.40 459.62l1.60 3.30h-3.20zM726.20 460.55l1.60 3.30h-3.20zM729.00 461.48l1.60 3.30h-3.20zM731.80 462.39l1.60 3.30h-3.20zM734.60 463.30l1.60 3.30h-3.20zM737.40 464.20l1.60 3.30h-3.20zM740.20 465.09l1.60 3.30h-3.20zM743.00 465.97l1.60 3.30h-3.20zM745.80 466.84l1.60 3.30h-3.20zM748.60 467.71l1.60 3.30h-3.20zM751.40 468.56l1.60 3.30h-3.20zM754.20 469.41l1.60 3.30h-3.20zM757.00 470.25l1.60 3.30h-3.20zM759.80 471.09l1.60 3.30h-3.20zM762.60 471.91l1.60 3.30h-3.20zM765.40 472.73l1.60 3.30h-3.20zM768.20 473.54l1.60 3.30h-3.20zM771.00 474.34l1.60 3.30h-3.20zM773.80 475.14l1.60 3.30h-3.20zM776.60 475.93l1.60 3.30h-3.20zM779.40 476.71l1.60 3.30h-3.20zM782.20 477.48l1.60 3.30h-3.20zM785.00 478.25l1.60 3.30h-3.20zM787.80 479.01l1.60 3.30h-3.20zM790.60 479.76l1.60 3.30h-3.20zM793.40 480.51l1.60 3.30h-3.20zM796.20 481.25l1.60 3.30h-3.20zM799.00 481.98l1.60 3.30h-3.20zM801.80 482.71l1.60 3.30h-3.20zM804.60 483.43l1.60 3.30h-3.20zM807.40 484.15l1.60 3.30h-3.20zM810.20 484.86l1.60 3.30h-3.20zM813.00 485.56l1.60 3.30h-3.20zM815.80 486.25l1.60 3.30h-3.20zM818.60 486.94l1.60 3.30h-3.20zM821.40 487.63l1.60 3.30h-3.20zM824.20 488.30l1.60 3.30h-3.20zM827.00 488.98l1.60 3.30h-3.20zM829.80 489.64l1.60 3.30h-3.20zM832.60 490.30l1.60 3.30h-3.20zM835.40 490.96l1.60 3.30h-3.20zM838.20 491.61l1.60 3.30h-3.20zM841.00 492.25l1.60 3.30h-3.20zM843.80 492.89l1.60 3.30h-3.20zM846.60 493.52l1.60 3.30h-3.20zM849.40 494.15l1.60 3.30h-3.20zM852.20 494.77l1.60 3.30h-3.20zM855.00 495.39l1.60 3.30h-3.20zM857.80 496.00l1.60 3.30h-3.20zM860.60 496.61l1.60 3.30h-3.20zM863.40 497.21l1.60 3.30h-3.20zM866.20 497.80l1.60 3.30h-3.20zM869.00 498.40l1.60 3.30h-3.20zM871.80 498.98l1.60 3.30h-3.20zM874.60 499.56l1.60 3.30h-3.20zM877.40 500.14l1.60 3.30h-3.20zM880.20 500.71l1.60 3.30h-3.20zM883.00 501.28l1.60 3.30h-3.20zM885.80 501.84l1.60 3.30h-3.20zM888.60 502.40l1.60 3.30h-3.20zM891.40 502.96l1.60 3.30h-3.20zM894.20 503.50l1.60 3.30h-3.20zM897.00 504.05l1.60 3.30h-3.20zM899.80 504.59l1.60 3.30h-3.20zM902.60 505.13l1.60 3.30h-3.20zM905.40 505.66l1.60 3.30h-3.20zM908.20 506.19l1.60 3.30h-3.20zM911.00 506.71l1.60 3.30h-3.20zM913.80 507.23l1.60 3.30h-3.20zM916.60 507.74l1.60 3.30h-3.20zM919.40 508.25l1.60 3.30h-3.20zM922.20 508.76l1.60 3.30h-3.20zM925.00 509.26l1.60 3.30h-3.20zM927.80 509.76l1.60 3.30h-3.20zM930.60 510.26l1.60 3.30h-3.20zM933.40 510.75l1.60 3.30h-3.20zM936.20 511.23l1.60 3.30h-3.20zM939.00 511.72l1.60 3.30h-3.20zM941.80 512.20l1.60 3.30h-3.20zM944.60 512.67l1.60 3.30h-3.20zM947.40 513.14l1.60 3.30h-3.20zM950.20 513.61l1.60 3.30h-3.20zM953.00 514.08l1.60 3.30h-3.20zM955.80 514.54l1.60 3.30h-3.20zM958.60 515.00l1.60 3.30h-3.20zM961.40 515.45l1.60 3.30h-3.20zM964.20 515.90l1.60 3.30h-3.20zM967.00 516.35l1.60 3.30h-3.20zM969.80 516.79l1.60 3.30h-3.20zM972.60 517.23l1.60 3.30h-3.20zM975.40 517.67l1.60 3.30h-3.20zM978.20 518.10l1.60 3.30h-3.20zM981.00 518.53l1.60 3.30h-3.20z" fill="#1556d6"/>
<polyline points="140.50,263.90 143.50,287.70 146.10,311.40 148.90,272.90 152.10,284.90 154.70,293.10 157.50,311.10 160.90,352.40 163.60,329.20 165.30,186.90 167.60,288.10 171.70,296.70 174.40,276.70 177.00,288.40 180.40,339.90 183.10,284.30 185.80,307.50 188.60,331.90 191.60,312.90 194.30,320.70 197.20,288.70 199.50,316.90 202.00,312.90 204.50,309.50 208.40,306.70 211.20,321.00 213.80,336.10 216.80,347.30 219.80,345.70 222.40,349.40 226.50,352.90 229.00,354.90 231.00,364.40 233.80,339.90 235.50,214.70 238.80,237.30 241.50,267.30 244.20,297.70 247.20,298.40 250.00,305.50 252.60,312.80 255.20,322.90 258.70,316.10 260.80,325.30 263.60,328.20 266.50,324.40 269.30,335.70 273.10,332.90 275.00,337.60 277.80,344.20 281.60,339.50 284.40,343.30 286.30,351.80 289.10,356.50 292.00,366.00 293.90,355.60 297.70,356.50 300.50,358.90 302.40,361.20 303.30,366.00 306.20,380.10 309.60,383.90 311.80,378.30 315.60,377.30 319.40,376.40 321.50,374.90 323.50,365.60 324.80,386.40 327.00,385.90 330.50,393.30 334.60,390.10 338.40,390.10 339.00,395.50 341.60,400.40 344.30,399.80 345.90,406.30 349.20,398.70 352.40,399.80 356.80,410.10 357.80,390.10 361.10,386.90 364.30,387.90 366.50,390.10 367.60,396.60 370.80,393.30 373.00,400.90 377.30,393.30 378.40,407.40 381.60,408.50 383.80,415.00 387.00,411.70 390.30,413.90 393.50,411.70 395.70,420.40 398.90,419.30 402.00,421.90 403.50,346.10 407.20,346.10 409.30,360.10 412.00,365.50 414.40,376.50 416.90,377.70 419.30,380.10 421.10,386.20 424.20,381.30 426.60,392.30 430.20,388.60 432.10,398.90 435.10,400.20 437.50,398.90 441.20,392.30 443.00,361.90 446.20,340.00" fill="none" stroke="#f5d21a" stroke-width="1.2" opacity="0.55"/>
<polyline points="140.50,263.00 143.50,286.80 146.10,310.50 148.90,272.00 152.10,284.00 154.70,292.20 157.50,310.20 160.90,351.50 163.60,328.30 165.30,186.00 167.60,287.20 171.70,295.80 174.40,275.80 177.00,287.50 180.40,339.00 183.10,283.40 185.80,306.60 188.60,331.00 191.60,312.00 194.30,319.80 197.20,287.80 199.50,316.00 202.00,312.00 204.50,308.60 208.40,305.80 211.20,320.10 213.80,335.20 216.80,346.40 219.80,344.80 222.40,348.50 226.50,352.00 229.00,354.00 231.00,363.50 233.80,339.00 235.50,213.80 238.80,236.40 241.50,266.40 244.20,296.80 247.20,297.50 250.00,304.60 252.60,311.90 255.20,322.00 258.70,315.20 260.80,324.40 263.60,327.30 266.50,323.50 269.30,334.80 273.10,332.00 275.00,336.70 277.80,343.30 281.60,338.60 284.40,342.40 286.30,350.90 289.10,355.60 292.00,365.10 293.90,354.70 297.70,355.60 300.50,358.00 302.40,360.30 303.30,365.10 306.20,379.20 309.60,383.00 311.80,377.40 315.60,376.40 319.40,375.50 321.50,374.00 323.50,364.70 324.80,385.50 327.00,385.00 330.50,392.40 334.60,389.20 338.40,389.20 339.00,394.60 341.60,399.50 344.30,398.90 345.90,405.40 349.20,397.80 352.40,398.90 356.80,409.20 357.80,389.20 361.10,386.00 364.30,387.00 366.50,389.20 367.60,395.70 370.80,392.40 373.00,400.00 377.30,392.40 378.40,406.50 381.60,407.60 383.80,414.10 387.00,410.80 390.30,413.00 393.50,410.80 395.70,419.50 398.90,418.40 402.00,421.00 403.50,345.20 407.20,345.20 409.30,359.20 412.00,364.60 414.40,375.60 416.90,376.80 419.30,379.20 421.10,385.30 424.20,380.40 426.60,391.40 430.20,387.70 432.10,398.00 435.10,399.30 437.50,398.00 441.20,391.40 443.00,361.00 446.20,339.10" fill="none" stroke="#f0142c" stroke-width="1.35"/>
<rect x="136.80" y="260.10" width="7.4" height="7.4" fill="none" stroke="#f5d21a" stroke-width="1.2" opacity="0.5"/>
<rect x="139.80" y="283.90" width="7.4" height="7.4" fill="none" stroke="#f5d21a" stroke-width="1.2" opacity="0.5"/>
<rect x="142.40" y="307.60" width="7.4" height="7.4" fill="none" stroke="#f5d21a" stroke-width="1.2" opacity="0.5"/>
<rect x="145.20" y="269.10" width="7.4" height="7.4" fill="none" stroke="#f5d21a" stroke-width="1.2" opacity="0.5"/>
<rect x="148.40" y="281.10" width="7.4" height="7.4" fill="none" stroke="#f5d21a" stroke-width="1.2" opacity="0.5"/>
<rect x="151.00" y="289.30" width="7.4" height="7.4" fill="none" stroke="#f5d21a" stroke-width="1.2" opacity="0.5"/>
<rect x="153.80" y="307.30" width="7.4" height="7.4" fill="none" stroke="#f5d21a" stroke-width="1.2" opacity="0.5"/>
<rect x="157.20" y="348.60" width="7.4" height="7.4" fill="none" stroke="#f5d21a" stroke-width="1.2" opacity="0.5"/>
<rect x="159.90" y="325.40" width="7.4" height="7.4" fill="none" stroke="#f5d21a" stroke-width="1.2" opacity="0.5"/>
<rect x="161.60" y="183.10" width="7.4" height="7.4" fill="none" stroke="#f5d21a" stroke-width="1.2" opacity="0.5"/>
<rect x="163.90" y="284.30" width="7.4" height="7.4" fill="none" stroke="#f5d21a" stroke-width="1.2" opacity="0.5"/>
<rect x="168.00" y="292.90" width="7.4" height="7.4" fill="none" stroke="#f5d21a" stroke-width="1.2" opacity="0.5"/>
<rect x="170.70" y="272.90" width="7.4" height="7.4" fill="none" stroke="#f5d21a" stroke-width="1.2" opacity="0.5"/>
<rect x="173.30" y="284.60" width="7.4" height="7.4" fill="none" stroke="#f5d21a" stroke-width="1.2" opacity="0.5"/>
<rect x="176.70" y="336.10" width="7.4" height="7.4" fill="none" stroke="#f5d21a" stroke-width="1.2" opacity="0.5"/>
<rect x="179.40" y="280.50" width="7.4" height="7.4" fill="none" stroke="#f5d21a" stroke-width="1.2" opacity="0.5"/>
<rect x="182.10" y="303.70" width="7.4" height="7.4" fill="none" stroke="#f5d21a" stroke-width="1.2" opacity="0.5"/>
<rect x="184.90" y="328.10" width="7.4" height="7.4" fill="none" stroke="#f5d21a" stroke-width="1.2" opacity="0.5"/>
<rect x="187.90" y="309.10" width="7.4" height="7.4" fill="none" stroke="#f5d21a" stroke-width="1.2" opacity="0.5"/>
<rect x="190.60" y="316.90" width="7.4" height="7.4" fill="none" stroke="#f5d21a" stroke-width="1.2" opacity="0.5"/>
<rect x="193.50" y="284.90" width="7.4" height="7.4" fill="none" stroke="#f5d21a" stroke-width="1.2" opacity="0.5"/>
<rect x="195.80" y="313.10" width="7.4" height="7.4" fill="none" stroke="#f5d21a" stroke-width="1.2" opacity="0.5"/>
<rect x="198.30" y="309.10" width="7.4" height="7.4" fill="none" stroke="#f5d21a" stroke-width="1.2" opacity="0.5"/>
<rect x="200.80" y="305.70" width="7.4" height="7.4" fill="none" stroke="#f5d21a" stroke-width="1.2" opacity="0.5"/>
<rect x="204.70" y="302.90" width="7.4" height="7.4" fill="none" stroke="#f5d21a" stroke-width="1.2" opacity="0.5"/>
<rect x="207.50" y="317.20" width="7.4" height="7.4" fill="none" stroke="#f5d21a" stroke-width="1.2" opacity="0.5"/>
<rect x="210.10" y="332.30" width="7.4" height="7.4" fill="none" stroke="#f5d21a" stroke-width="1.2" opacity="0.5"/>
<rect x="213.10" y="343.50" width="7.4" height="7.4" fill="none" stroke="#f5d21a" stroke-width="1.2" opacity="0.5"/>
<rect x="216.10" y="341.90" width="7.4" height="7.4" fill="none" stroke="#f5d21a" stroke-width="1.2" opacity="0.5"/>
<rect x="218.70" y="345.60" width="7.4" height="7.4" fill="none" stroke="#f5d21a" stroke-width="1.2" opacity="0.5"/>
<rect x="222.80" y="349.10" width="7.4" height="7.4" fill="none" stroke="#f5d21a" stroke-width="1.2" opacity="0.5"/>
<rect x="225.30" y="351.10" width="7.4" height="7.4" fill="none" stroke="#f5d21a" stroke-width="1.2" opacity="0.5"/>
<rect x="227.30" y="360.60" width="7.4" height="7.4" fill="none" stroke="#f5d21a" stroke-width="1.2" opacity="0.5"/>
<rect x="230.10" y="336.10" width="7.4" height="7.4" fill="none" stroke="#f5d21a" stroke-width="1.2" opacity="0.5"/>
<rect x="231.80" y="210.90" width="7.4" height="7.4" fill="none" stroke="#f5d21a" stroke-width="1.2" opacity="0.5"/>
<rect x="235.10" y="233.50" width="7.4" height="7.4" fill="none" stroke="#f5d21a" stroke-width="1.2" opacity="0.5"/>
<rect x="237.80" y="263.50" width="7.4" height="7.4" fill="none" stroke="#f5d21a" stroke-width="1.2" opacity="0.5"/>
<rect x="240.50" y="293.90" width="7.4" height="7.4" fill="none" stroke="#f5d21a" stroke-width="1.2" opacity="0.5"/>
<rect x="243.50" y="294.60" width="7.4" height="7.4" fill="none" stroke="#f5d21a" stroke-width="1.2" opacity="0.5"/>
<rect x="246.30" y="301.70" width="7.4" height="7.4" fill="none" stroke="#f5d21a" stroke-width="1.2" opacity="0.5"/>
<rect x="248.90" y="309.00" width="7.4" height="7.4" fill="none" stroke="#f5d21a" stroke-width="1.2" opacity="0.5"/>
<rect x="251.50" y="319.10" width="7.4" height="7.4" fill="none" stroke="#f5d21a" stroke-width="1.2" opacity="0.5"/>
<rect x="255.00" y="312.30" width="7.4" height="7.4" fill="none" stroke="#f5d21a" stroke-width="1.2" opacity="0.5"/>
<rect x="257.10" y="321.50" width="7.4" height="7.4" fill="none" stroke="#f5d21a" stroke-width="1.2" opacity="0.5"/>
<rect x="259.90" y="324.40" width="7.4" height="7.4" fill="none" stroke="#f5d21a" stroke-width="1.2" opacity="0.5"/>
<rect x="262.80" y="320.60" width="7.4" height="7.4" fill="none" stroke="#f5d21a" stroke-width="1.2" opacity="0.5"/>
<rect x="265.60" y="331.90" width="7.4" height="7.4" fill="none" stroke="#f5d21a" stroke-width="1.2" opacity="0.5"/>
<rect x="269.40" y="329.10" width="7.4" height="7.4" fill="none" stroke="#f5d21a" stroke-width="1.2" opacity="0.5"/>
<rect x="271.30" y="333.80" width="7.4" height="7.4" fill="none" stroke="#f5d21a" stroke-width="1.2" opacity="0.5"/>
<rect x="274.10" y="340.40" width="7.4" height="7.4" fill="none" stroke="#f5d21a" stroke-width="1.2" opacity="0.5"/>
<rect x="277.90" y="335.70" width="7.4" height="7.4" fill="none" stroke="#f5d21a" stroke-width="1.2" opacity="0.5"/>
<rect x="280.70" y="339.50" width="7.4" height="7.4" fill="none" stroke="#f5d21a" stroke-width="1.2" opacity="0.5"/>
<rect x="282.60" y="348.00" width="7.4" height="7.4" fill="none" stroke="#f5d21a" stroke-width="1.2" opacity="0.5"/>
<rect x="285.40" y="352.70" width="7.4" height="7.4" fill="none" stroke="#f5d21a" stroke-width="1.2" opacity="0.5"/>
<rect x="288.30" y="362.20" width="7.4" height="7.4" fill="none" stroke="#f5d21a" stroke-width="1.2" opacity="0.5"/>
<rect x="290.20" y="351.80" width="7.4" height="7.4" fill="none" stroke="#f5d21a" stroke-width="1.2" opacity="0.5"/>
<rect x="294.00" y="352.70" width="7.4" height="7.4" fill="none" stroke="#f5d21a" stroke-width="1.2" opacity="0.5"/>
<rect x="296.80" y="355.10" width="7.4" height="7.4" fill="none" stroke="#f5d21a" stroke-width="1.2" opacity="0.5"/>
<rect x="298.70" y="357.40" width="7.4" height="7.4" fill="none" stroke="#f5d21a" stroke-width="1.2" opacity="0.5"/>
<rect x="299.60" y="362.20" width="7.4" height="7.4" fill="none" stroke="#f5d21a" stroke-width="1.2" opacity="0.5"/>
<rect x="302.50" y="376.30" width="7.4" height="7.4" fill="none" stroke="#f5d21a" stroke-width="1.2" opacity="0.5"/>
<rect x="305.90" y="380.10" width="7.4" height="7.4" fill="none" stroke="#f5d21a" stroke-width="1.2" opacity="0.5"/>
<rect x="308.10" y="374.50" width="7.4" height="7.4" fill="none" stroke="#f5d21a" stroke-width="1.2" opacity="0.5"/>
<rect x="311.90" y="373.50" width="7.4" height="7.4" fill="none" stroke="#f5d21a" stroke-width="1.2" opacity="0.5"/>
<rect x="315.70" y="372.60" width="7.4" height="7.4" fill="none" stroke="#f5d21a" stroke-width="1.2" opacity="0.5"/>
<rect x="317.80" y="371.10" width="7.4" height="7.4" fill="none" stroke="#f5d21a" stroke-width="1.2" opacity="0.5"/>
<rect x="319.80" y="361.80" width="7.4" height="7.4" fill="none" stroke="#f5d21a" stroke-width="1.2" opacity="0.5"/>
<rect x="321.10" y="382.60" width="7.4" height="7.4" fill="none" stroke="#f5d21a" stroke-width="1.2" opacity="0.5"/>
<rect x="323.30" y="382.10" width="7.4" height="7.4" fill="none" stroke="#f5d21a" stroke-width="1.2" opacity="0.5"/>
<rect x="326.80" y="389.50" width="7.4" height="7.4" fill="none" stroke="#f5d21a" stroke-width="1.2" opacity="0.5"/>
<rect x="330.90" y="386.30" width="7.4" height="7.4" fill="none" stroke="#f5d21a" stroke-width="1.2" opacity="0.5"/>
<rect x="334.70" y="386.30" width="7.4" height="7.4" fill="none" stroke="#f5d21a" stroke-width="1.2" opacity="0.5"/>
<rect x="335.30" y="391.70" width="7.4" height="7.4" fill="none" stroke="#f5d21a" stroke-width="1.2" opacity="0.5"/>
<rect x="337.90" y="396.60" width="7.4" height="7.4" fill="none" stroke="#f5d21a" stroke-width="1.2" opacity="0.5"/>
<rect x="340.60" y="396.00" width="7.4" height="7.4" fill="none" stroke="#f5d21a" stroke-width="1.2" opacity="0.5"/>
<rect x="342.20" y="402.50" width="7.4" height="7.4" fill="none" stroke="#f5d21a" stroke-width="1.2" opacity="0.5"/>
<rect x="345.50" y="394.90" width="7.4" height="7.4" fill="none" stroke="#f5d21a" stroke-width="1.2" opacity="0.5"/>
<rect x="348.70" y="396.00" width="7.4" height="7.4" fill="none" stroke="#f5d21a" stroke-width="1.2" opacity="0.5"/>
<rect x="353.10" y="406.30" width="7.4" height="7.4" fill="none" stroke="#f5d21a" stroke-width="1.2" opacity="0.5"/>
<rect x="354.10" y="386.30" width="7.4" height="7.4" fill="none" stroke="#f5d21a" stroke-width="1.2" opacity="0.5"/>
<rect x="357.40" y="383.10" width="7.4" height="7.4" fill="none" stroke="#f5d21a" stroke-width="1.2" opacity="0.5"/>
<rect x="360.60" y="384.10" width="7.4" height="7.4" fill="none" stroke="#f5d21a" stroke-width="1.2" opacity="0.5"/>
<rect x="362.80" y="386.30" width="7.4" height="7.4" fill="none" stroke="#f5d21a" stroke-width="1.2" opacity="0.5"/>
<rect x="363.90" y="392.80" width="7.4" height="7.4" fill="none" stroke="#f5d21a" stroke-width="1.2" opacity="0.5"/>
<rect x="367.10" y="389.50" width="7.4" height="7.4" fill="none" stroke="#f5d21a" stroke-width="1.2" opacity="0.5"/>
<rect x="369.30" y="397.10" width="7.4" height="7.4" fill="none" stroke="#f5d21a" stroke-width="1.2" opacity="0.5"/>
<rect x="373.60" y="389.50" width="7.4" height="7.4" fill="none" stroke="#f5d21a" stroke-width="1.2" opacity="0.5"/>
<rect x="374.70" y="403.60" width="7.4" height="7.4" fill="none" stroke="#f5d21a" stroke-width="1.2" opacity="0.5"/>
<rect x="377.90" y="404.70" width="7.4" height="7.4" fill="none" stroke="#f5d21a" stroke-width="1.2" opacity="0.5"/>
<rect x="380.10" y="411.20" width="7.4" height="7.4" fill="none" stroke="#f5d21a" stroke-width="1.2" opacity="0.5"/>
<rect x="383.30" y="407.90" width="7.4" height="7.4" fill="none" stroke="#f5d21a" stroke-width="1.2" opacity="0.5"/>
<rect x="386.60" y="410.10" width="7.4" height="7.4" fill="none" stroke="#f5d21a" stroke-width="1.2" opacity="0.5"/>
<rect x="389.80" y="407.90" width="7.4" height="7.4" fill="none" stroke="#f5d21a" stroke-width="1.2" opacity="0.5"/>
<rect x="392.00" y="416.60" width="7.4" height="7.4" fill="none" stroke="#f5d21a" stroke-width="1.2" opacity="0.5"/>
<rect x="395.20" y="415.50" width="7.4" height="7.4" fill="none" stroke="#f5d21a" stroke-width="1.2" opacity="0.5"/>
<rect x="398.30" y="418.10" width="7.4" height="7.4" fill="none" stroke="#f5d21a" stroke-width="1.2" opacity="0.5"/>
<rect x="399.80" y="342.30" width="7.4" height="7.4" fill="none" stroke="#f5d21a" stroke-width="1.2" opacity="0.5"/>
<rect x="403.50" y="342.30" width="7.4" height="7.4" fill="none" stroke="#f5d21a" stroke-width="1.2" opacity="0.5"/>
<rect x="405.60" y="356.30" width="7.4" height="7.4" fill="none" stroke="#f5d21a" stroke-width="1.2" opacity="0.5"/>
<rect x="408.30" y="361.70" width="7.4" height="7.4" fill="none" stroke="#f5d21a" stroke-width="1.2" opacity="0.5"/>
<rect x="410.70" y="372.70" width="7.4" height="7.4" fill="none" stroke="#f5d21a" stroke-width="1.2" opacity="0.5"/>
<rect x="413.20" y="373.90" width="7.4" height="7.4" fill="none" stroke="#f5d21a" stroke-width="1.2" opacity="0.5"/>
<rect x="415.60" y="376.30" width="7.4" height="7.4" fill="none" stroke="#f5d21a" stroke-width="1.2" opacity="0.5"/>
<rect x="417.40" y="382.40" width="7.4" height="7.4" fill="none" stroke="#f5d21a" stroke-width="1.2" opacity="0.5"/>
<rect x="420.50" y="377.50" width="7.4" height="7.4" fill="none" stroke="#f5d21a" stroke-width="1.2" opacity="0.5"/>
<rect x="422.90" y="388.50" width="7.4" height="7.4" fill="none" stroke="#f5d21a" stroke-width="1.2" opacity="0.5"/>
<rect x="426.50" y="384.80" width="7.4" height="7.4" fill="none" stroke="#f5d21a" stroke-width="1.2" opacity="0.5"/>
<rect x="428.40" y="395.10" width="7.4" height="7.4" fill="none" stroke="#f5d21a" stroke-width="1.2" opacity="0.5"/>
<rect x="431.40" y="396.40" width="7.4" height="7.4" fill="none" stroke="#f5d21a" stroke-width="1.2" opacity="0.5"/>
<rect x="433.80" y="395.10" width="7.4" height="7.4" fill="none" stroke="#f5d21a" stroke-width="1.2" opacity="0.5"/>
<rect x="437.50" y="388.50" width="7.4" height="7.4" fill="none" stroke="#f5d21a" stroke-width="1.2" opacity="0.5"/>
<rect x="439.30" y="358.10" width="7.4" height="7.4" fill="none" stroke="#f5d21a" stroke-width="1.2" opacity="0.5"/>
<rect x="442.50" y="336.20" width="7.4" height="7.4" fill="none" stroke="#f5d21a" stroke-width="1.2" opacity="0.5"/>
<rect x="136.80" y="259.30" width="7.4" height="7.4" fill="none" stroke="#f0142c" stroke-width="1.5"/>
<rect x="139.80" y="283.10" width="7.4" height="7.4" fill="none" stroke="#f0142c" stroke-width="1.5"/>
<rect x="142.40" y="306.80" width="7.4" height="7.4" fill="none" stroke="#f0142c" stroke-width="1.5"/>
<rect x="145.20" y="268.30" width="7.4" height="7.4" fill="none" stroke="#f0142c" stroke-width="1.5"/>
<rect x="148.40" y="280.30" width="7.4" height="7.4" fill="none" stroke="#f0142c" stroke-width="1.5"/>
<rect x="151.00" y="288.50" width="7.4" height="7.4" fill="none" stroke="#f0142c" stroke-width="1.5"/>
<rect x="153.80" y="306.50" width="7.4" height="7.4" fill="none" stroke="#f0142c" stroke-width="1.5"/>
<rect x="157.20" y="347.80" width="7.4" height="7.4" fill="none" stroke="#f0142c" stroke-width="1.5"/>
<rect x="159.90" y="324.60" width="7.4" height="7.4" fill="none" stroke="#f0142c" stroke-width="1.5"/>
<rect x="161.60" y="182.30" width="7.4" height="7.4" fill="none" stroke="#f0142c" stroke-width="1.5"/>
<rect x="163.90" y="283.50" width="7.4" height="7.4" fill="none" stroke="#f0142c" stroke-width="1.5"/>
<rect x="168.00" y="292.10" width="7.4" height="7.4" fill="none" stroke="#f0142c" stroke-width="1.5"/>
<rect x="170.70" y="272.10" width="7.4" height="7.4" fill="none" stroke="#f0142c" stroke-width="1.5"/>
<rect x="173.30" y="283.80" width="7.4" height="7.4" fill="none" stroke="#f0142c" stroke-width="1.5"/>
<rect x="176.70" y="335.30" width="7.4" height="7.4" fill="none" stroke="#f0142c" stroke-width="1.5"/>
<rect x="179.40" y="279.70" width="7.4" height="7.4" fill="none" stroke="#f0142c" stroke-width="1.5"/>
<rect x="182.10" y="302.90" width="7.4" height="7.4" fill="none" stroke="#f0142c" stroke-width="1.5"/>
<rect x="184.90" y="327.30" width="7.4" height="7.4" fill="none" stroke="#f0142c" stroke-width="1.5"/>
<rect x="187.90" y="308.30" width="7.4" height="7.4" fill="none" stroke="#f0142c" stroke-width="1.5"/>
<rect x="190.60" y="316.10" width="7.4" height="7.4" fill="none" stroke="#f0142c" stroke-width="1.5"/>
<rect x="193.50" y="284.10" width="7.4" height="7.4" fill="none" stroke="#f0142c" stroke-width="1.5"/>
<rect x="195.80" y="312.30" width="7.4" height="7.4" fill="none" stroke="#f0142c" stroke-width="1.5"/>
<rect x="198.30" y="308.30" width="7.4" height="7.4" fill="none" stroke="#f0142c" stroke-width="1.5"/>
<rect x="200.80" y="304.90" width="7.4" height="7.4" fill="none" stroke="#f0142c" stroke-width="1.5"/>
<rect x="204.70" y="302.10" width="7.4" height="7.4" fill="none" stroke="#f0142c" stroke-width="1.5"/>
<rect x="207.50" y="316.40" width="7.4" height="7.4" fill="none" stroke="#f0142c" stroke-width="1.5"/>
<rect x="210.10" y="331.50" width="7.4" height="7.4" fill="none" stroke="#f0142c" stroke-width="1.5"/>
<rect x="213.10" y="342.70" width="7.4" height="7.4" fill="none" stroke="#f0142c" stroke-width="1.5"/>
<rect x="216.10" y="341.10" width="7.4" height="7.4" fill="none" stroke="#f0142c" stroke-width="1.5"/>
<rect x="218.70" y="344.80" width="7.4" height="7.4" fill="none" stroke="#f0142c" stroke-width="1.5"/>
<rect x="222.80" y="348.30" width="7.4" height="7.4" fill="none" stroke="#f0142c" stroke-width="1.5"/>
<rect x="225.30" y="350.30" width="7.4" height="7.4" fill="none" stroke="#f0142c" stroke-width="1.5"/>
<rect x="227.30" y="359.80" width="7.4" height="7.4" fill="none" stroke="#f0142c" stroke-width="1.5"/>
<rect x="230.10" y="335.30" width="7.4" height="7.4" fill="none" stroke="#f0142c" stroke-width="1.5"/>
<rect x="231.80" y="210.10" width="7.4" height="7.4" fill="none" stroke="#f0142c" stroke-width="1.5"/>
<rect x="235.10" y="232.70" width="7.4" height="7.4" fill="none" stroke="#f0142c" stroke-width="1.5"/>
<rect x="237.80" y="262.70" width="7.4" height="7.4" fill="none" stroke="#f0142c" stroke-width="1.5"/>
<rect x="240.50" y="293.10" width="7.4" height="7.4" fill="none" stroke="#f0142c" stroke-width="1.5"/>
<rect x="243.50" y="293.80" width="7.4" height="7.4" fill="none" stroke="#f0142c" stroke-width="1.5"/>
<rect x="246.30" y="300.90" width="7.4" height="7.4" fill="none" stroke="#f0142c" stroke-width="1.5"/>
<rect x="248.90" y="308.20" width="7.4" height="7.4" fill="none" stroke="#f0142c" stroke-width="1.5"/>
<rect x="251.50" y="318.30" width="7.4" height="7.4" fill="none" stroke="#f0142c" stroke-width="1.5"/>
<rect x="255.00" y="311.50" width="7.4" height="7.4" fill="none" stroke="#f0142c" stroke-width="1.5"/>
<rect x="257.10" y="320.70" width="7.4" height="7.4" fill="none" stroke="#f0142c" stroke-width="1.5"/>
<rect x="259.90" y="323.60" width="7.4" height="7.4" fill="none" stroke="#f0142c" stroke-width="1.5"/>
<rect x="262.80" y="319.80" width="7.4" height="7.4" fill="none" stroke="#f0142c" stroke-width="1.5"/>
<rect x="265.60" y="331.10" width="7.4" height="7.4" fill="none" stroke="#f0142c" stroke-width="1.5"/>
<rect x="269.40" y="328.30" width="7.4" height="7.4" fill="none" stroke="#f0142c" stroke-width="1.5"/>
<rect x="271.30" y="333.00" width="7.4" height="7.4" fill="none" stroke="#f0142c" stroke-width="1.5"/>
<rect x="274.10" y="339.60" width="7.4" height="7.4" fill="none" stroke="#f0142c" stroke-width="1.5"/>
<rect x="277.90" y="334.90" width="7.4" height="7.4" fill="none" stroke="#f0142c" stroke-width="1.5"/>
<rect x="280.70" y="338.70" width="7.4" height="7.4" fill="none" stroke="#f0142c" stroke-width="1.5"/>
<rect x="282.60" y="347.20" width="7.4" height="7.4" fill="none" stroke="#f0142c" stroke-width="1.5"/>
<rect x="285.40" y="351.90" width="7.4" height="7.4" fill="none" stroke="#f0142c" stroke-width="1.5"/>
<rect x="288.30" y="361.40" width="7.4" height="7.4" fill="none" stroke="#f0142c" stroke-width="1.5"/>
<rect x="290.20" y="351.00" width="7.4" height="7.4" fill="none" stroke="#f0142c" stroke-width="1.5"/>
<rect x="294.00" y="351.90" width="7.4" height="7.4" fill="none" stroke="#f0142c" stroke-width="1.5"/>
<rect x="296.80" y="354.30" width="7.4" height="7.4" fill="none" stroke="#f0142c" stroke-width="1.5"/>
<rect x="298.70" y="356.60" width="7.4" height="7.4" fill="none" stroke="#f0142c" stroke-width="1.5"/>
<rect x="299.60" y="361.40" width="7.4" height="7.4" fill="none" stroke="#f0142c" stroke-width="1.5"/>
<rect x="302.50" y="375.50" width="7.4" height="7.4" fill="none" stroke="#f0142c" stroke-width="1.5"/>
<rect x="305.90" y="379.30" width="7.4" height="7.4" fill="none" stroke="#f0142c" stroke-width="1.5"/>
<rect x="308.10" y="373.70" width="7.4" height="7.4" fill="none" stroke="#f0142c" stroke-width="1.5"/>
<rect x="311.90" y="372.70" width="7.4" height="7.4" fill="none" stroke="#f0142c" stroke-width="1.5"/>
<rect x="315.70" y="371.80" width="7.4" height="7.4" fill="none" stroke="#f0142c" stroke-width="1.5"/>
<rect x="317.80" y="370.30" width="7.4" height="7.4" fill="none" stroke="#f0142c" stroke-width="1.5"/>
<rect x="319.80" y="361.00" width="7.4" height="7.4" fill="none" stroke="#f0142c" stroke-width="1.5"/>
<rect x="321.10" y="381.80" width="7.4" height="7.4" fill="none" stroke="#f0142c" stroke-width="1.5"/>
<rect x="323.30" y="381.30" width="7.4" height="7.4" fill="none" stroke="#f0142c" stroke-width="1.5"/>
<rect x="326.80" y="388.70" width="7.4" height="7.4" fill="none" stroke="#f0142c" stroke-width="1.5"/>
<rect x="330.90" y="385.50" width="7.4" height="7.4" fill="none" stroke="#f0142c" stroke-width="1.5"/>
<rect x="334.70" y="385.50" width="7.4" height="7.4" fill="none" stroke="#f0142c" stroke-width="1.5"/>
<rect x="335.30" y="390.90" width="7.4" height="7.4" fill="none" stroke="#f0142c" stroke-width="1.5"/>
<rect x="337.90" y="395.80" width="7.4" height="7.4" fill="none" stroke="#f0142c" stroke-width="1.5"/>
<rect x="340.60" y="395.20" width="7.4" height="7.4" fill="none" stroke="#f0142c" stroke-width="1.5"/>
<rect x="342.20" y="401.70" width="7.4" height="7.4" fill="none" stroke="#f0142c" stroke-width="1.5"/>
<rect x="345.50" y="394.10" width="7.4" height="7.4" fill="none" stroke="#f0142c" stroke-width="1.5"/>
<rect x="348.70" y="395.20" width="7.4" height="7.4" fill="none" stroke="#f0142c" stroke-width="1.5"/>
<rect x="353.10" y="405.50" width="7.4" height="7.4" fill="none" stroke="#f0142c" stroke-width="1.5"/>
<rect x="354.10" y="385.50" width="7.4" height="7.4" fill="none" stroke="#f0142c" stroke-width="1.5"/>
<rect x="357.40" y="382.30" width="7.4" height="7.4" fill="none" stroke="#f0142c" stroke-width="1.5"/>
<rect x="360.60" y="383.30" width="7.4" height="7.4" fill="none" stroke="#f0142c" stroke-width="1.5"/>
<rect x="362.80" y="385.50" width="7.4" height="7.4" fill="none" stroke="#f0142c" stroke-width="1.5"/>
<rect x="363.90" y="392.00" width="7.4" height="7.4" fill="none" stroke="#f0142c" stroke-width="1.5"/>
<rect x="367.10" y="388.70" width="7.4" height="7.4" fill="none" stroke="#f0142c" stroke-width="1.5"/>
<rect x="369.30" y="396.30" width="7.4" height="7.4" fill="none" stroke="#f0142c" stroke-width="1.5"/>
<rect x="373.60" y="388.70" width="7.4" height="7.4" fill="none" stroke="#f0142c" stroke-width="1.5"/>
<rect x="374.70" y="402.80" width="7.4" height="7.4" fill="none" stroke="#f0142c" stroke-width="1.5"/>
<rect x="377.90" y="403.90" width="7.4" height="7.4" fill="none" stroke="#f0142c" stroke-width="1.5"/>
<rect x="380.10" y="410.40" width="7.4" height="7.4" fill="none" stroke="#f0142c" stroke-width="1.5"/>
<rect x="383.30" y="407.10" width="7.4" height="7.4" fill="none" stroke="#f0142c" stroke-width="1.5"/>
<rect x="386.60" y="409.30" width="7.4" height="7.4" fill="none" stroke="#f0142c" stroke-width="1.5"/>
<rect x="389.80" y="407.10" width="7.4" height="7.4" fill="none" stroke="#f0142c" stroke-width="1.5"/>
<rect x="392.00" y="415.80" width="7.4" height="7.4" fill="none" stroke="#f0142c" stroke-width="1.5"/>
<rect x="395.20" y="414.70" width="7.4" height="7.4" fill="none" stroke="#f0142c" stroke-width="1.5"/>
<rect x="398.30" y="417.30" width="7.4" height="7.4" fill="none" stroke="#f0142c" stroke-width="1.5"/>
<rect x="399.80" y="341.50" width="7.4" height="7.4" fill="none" stroke="#f0142c" stroke-width="1.5"/>
<rect x="403.50" y="341.50" width="7.4" height="7.4" fill="none" stroke="#f0142c" stroke-width="1.5"/>
<rect x="405.60" y="355.50" width="7.4" height="7.4" fill="none" stroke="#f0142c" stroke-width="1.5"/>
<rect x="408.30" y="360.90" width="7.4" height="7.4" fill="none" stroke="#f0142c" stroke-width="1.5"/>
<rect x="410.70" y="371.90" width="7.4" height="7.4" fill="none" stroke="#f0142c" stroke-width="1.5"/>
<rect x="413.20" y="373.10" width="7.4" height="7.4" fill="none" stroke="#f0142c" stroke-width="1.5"/>
<rect x="415.60" y="375.50" width="7.4" height="7.4" fill="none" stroke="#f0142c" stroke-width="1.5"/>
<rect x="417.40" y="381.60" width="7.4" height="7.4" fill="none" stroke="#f0142c" stroke-width="1.5"/>
<rect x="420.50" y="376.70" width="7.4" height="7.4" fill="none" stroke="#f0142c" stroke-width="1.5"/>
<rect x="422.90" y="387.70" width="7.4" height="7.4" fill="none" stroke="#f0142c" stroke-width="1.5"/>
<rect x="426.50" y="384.00" width="7.4" height="7.4" fill="none" stroke="#f0142c" stroke-width="1.5"/>
<rect x="428.40" y="394.30" width="7.4" height="7.4" fill="none" stroke="#f0142c" stroke-width="1.5"/>
<rect x="431.40" y="395.60" width="7.4" height="7.4" fill="none" stroke="#f0142c" stroke-width="1.5"/>
<rect x="433.80" y="394.30" width="7.4" height="7.4" fill="none" stroke="#f0142c" stroke-width="1.5"/>
<rect x="437.50" y="387.70" width="7.4" height="7.4" fill="none" stroke="#f0142c" stroke-width="1.5"/>
<rect x="439.30" y="357.30" width="7.4" height="7.4" fill="none" stroke="#f0142c" stroke-width="1.5"/>
<rect x="442.50" y="335.40" width="7.4" height="7.4" fill="none" stroke="#f0142c" stroke-width="1.5"/>
<g transform="matrix(1 -0.00298 0.00611 1 -0.627 0.309)">
<rect x="144.27" y="484.62" width="227.17" height="87.58" fill="#fbfcf6" stroke="#acacac" stroke-width="1.2"/>
<line x1="149.00" y1="495.74" x2="179.50" y2="495.74" stroke="#1d3298" stroke-width="1.7"/>
<path d="M164.25 492.54 L167.45 495.74 L164.25 498.94 L161.05 495.74 Z" fill="#1d3298"/>
<text x="182.87" y="500.84" font-size="13.9" fill="#262626" textLength="32.10" lengthAdjust="spacingAndGlyphs">Base</text>
<line x1="148.87" y1="517.43" x2="179.37" y2="517.43" stroke="#e11584" stroke-width="1.7"/>
<rect x="161.82" y="515.13" width="4.6" height="4.6" fill="#e11584"/>
<text x="182.74" y="522.14" font-size="13.9" fill="#262626" textLength="116.40" lengthAdjust="spacingAndGlyphs">Current Swabbing</text>
<line x1="148.73" y1="539.13" x2="179.23" y2="539.13" stroke="#1556d6" stroke-width="1.7"/>
<path d="M163.98 536.13 L166.78 541.13 L161.18 541.13 Z" fill="#1556d6"/>
<text x="182.60" y="544.14" font-size="13.9" fill="#262626" textLength="182.40" lengthAdjust="spacingAndGlyphs">Compression + Tubing Pulls</text>
<line x1="148.60" y1="562.03" x2="179.10" y2="562.03" stroke="#f5d21a" stroke-width="1.2" opacity="0.7"/>
<line x1="148.60" y1="561.03" x2="179.10" y2="561.03" stroke="#f0142c" stroke-width="1.6"/>
<rect x="160.05" y="557.23" width="7.6" height="7.6" fill="none" stroke="#f0142c" stroke-width="1.8"/>
<text x="182.47" y="565.74" font-size="13.9" fill="#262626" textLength="59.60" lengthAdjust="spacingAndGlyphs">Historical</text>
</g>
<g transform="matrix(1 -0.00298 0.00611 1 -0.627 0.309)">
<text x="852.88" y="435.93" font-size="13.8" fill="#2262da" textLength="107.00" lengthAdjust="spacingAndGlyphs">Gross = 85.8 bcf</text>
<text x="843.56" y="454.31" font-size="13.8" fill="#2262da" textLength="125.70" lengthAdjust="spacingAndGlyphs">PCR Net = 29.4 bcf</text>
<text x="752.76" y="569.43" font-size="13.8" fill="#e4207f" textLength="106.30" lengthAdjust="spacingAndGlyphs">Gross = 71.7 bcf</text>
<text x="744.15" y="587.91" font-size="13.8" fill="#e4207f" textLength="124.70" lengthAdjust="spacingAndGlyphs">PCR Net = 24.6 bcf</text>
</g>
<line x1="901.10" y1="468.30" x2="882.70" y2="488.10" stroke="#222" stroke-width="1.3"/>
<path d="M876.20 495.30 L877.40 484.40 L888.00 491.80 Z" fill="#262626"/>
<line x1="802.50" y1="552.30" x2="833.75" y2="520.70" stroke="#222" stroke-width="1.3"/>
<path d="M840.60 512.50 L829.50 517.20 L838.00 524.20 Z" fill="#262626"/>
<line x1="971.4" y1="412.4" x2="974.6" y2="409.6" stroke="#8a8a8a" stroke-width="1.1" stroke-linecap="round"/>
<line x1="988.2" y1="442.2" x2="988.5" y2="444.2" stroke="#c8c8c8" stroke-width="0.9"/>
<circle cx="45.8" cy="183.4" r="0.9" fill="#d8d8d4"/>
</svg>
</body></html>
